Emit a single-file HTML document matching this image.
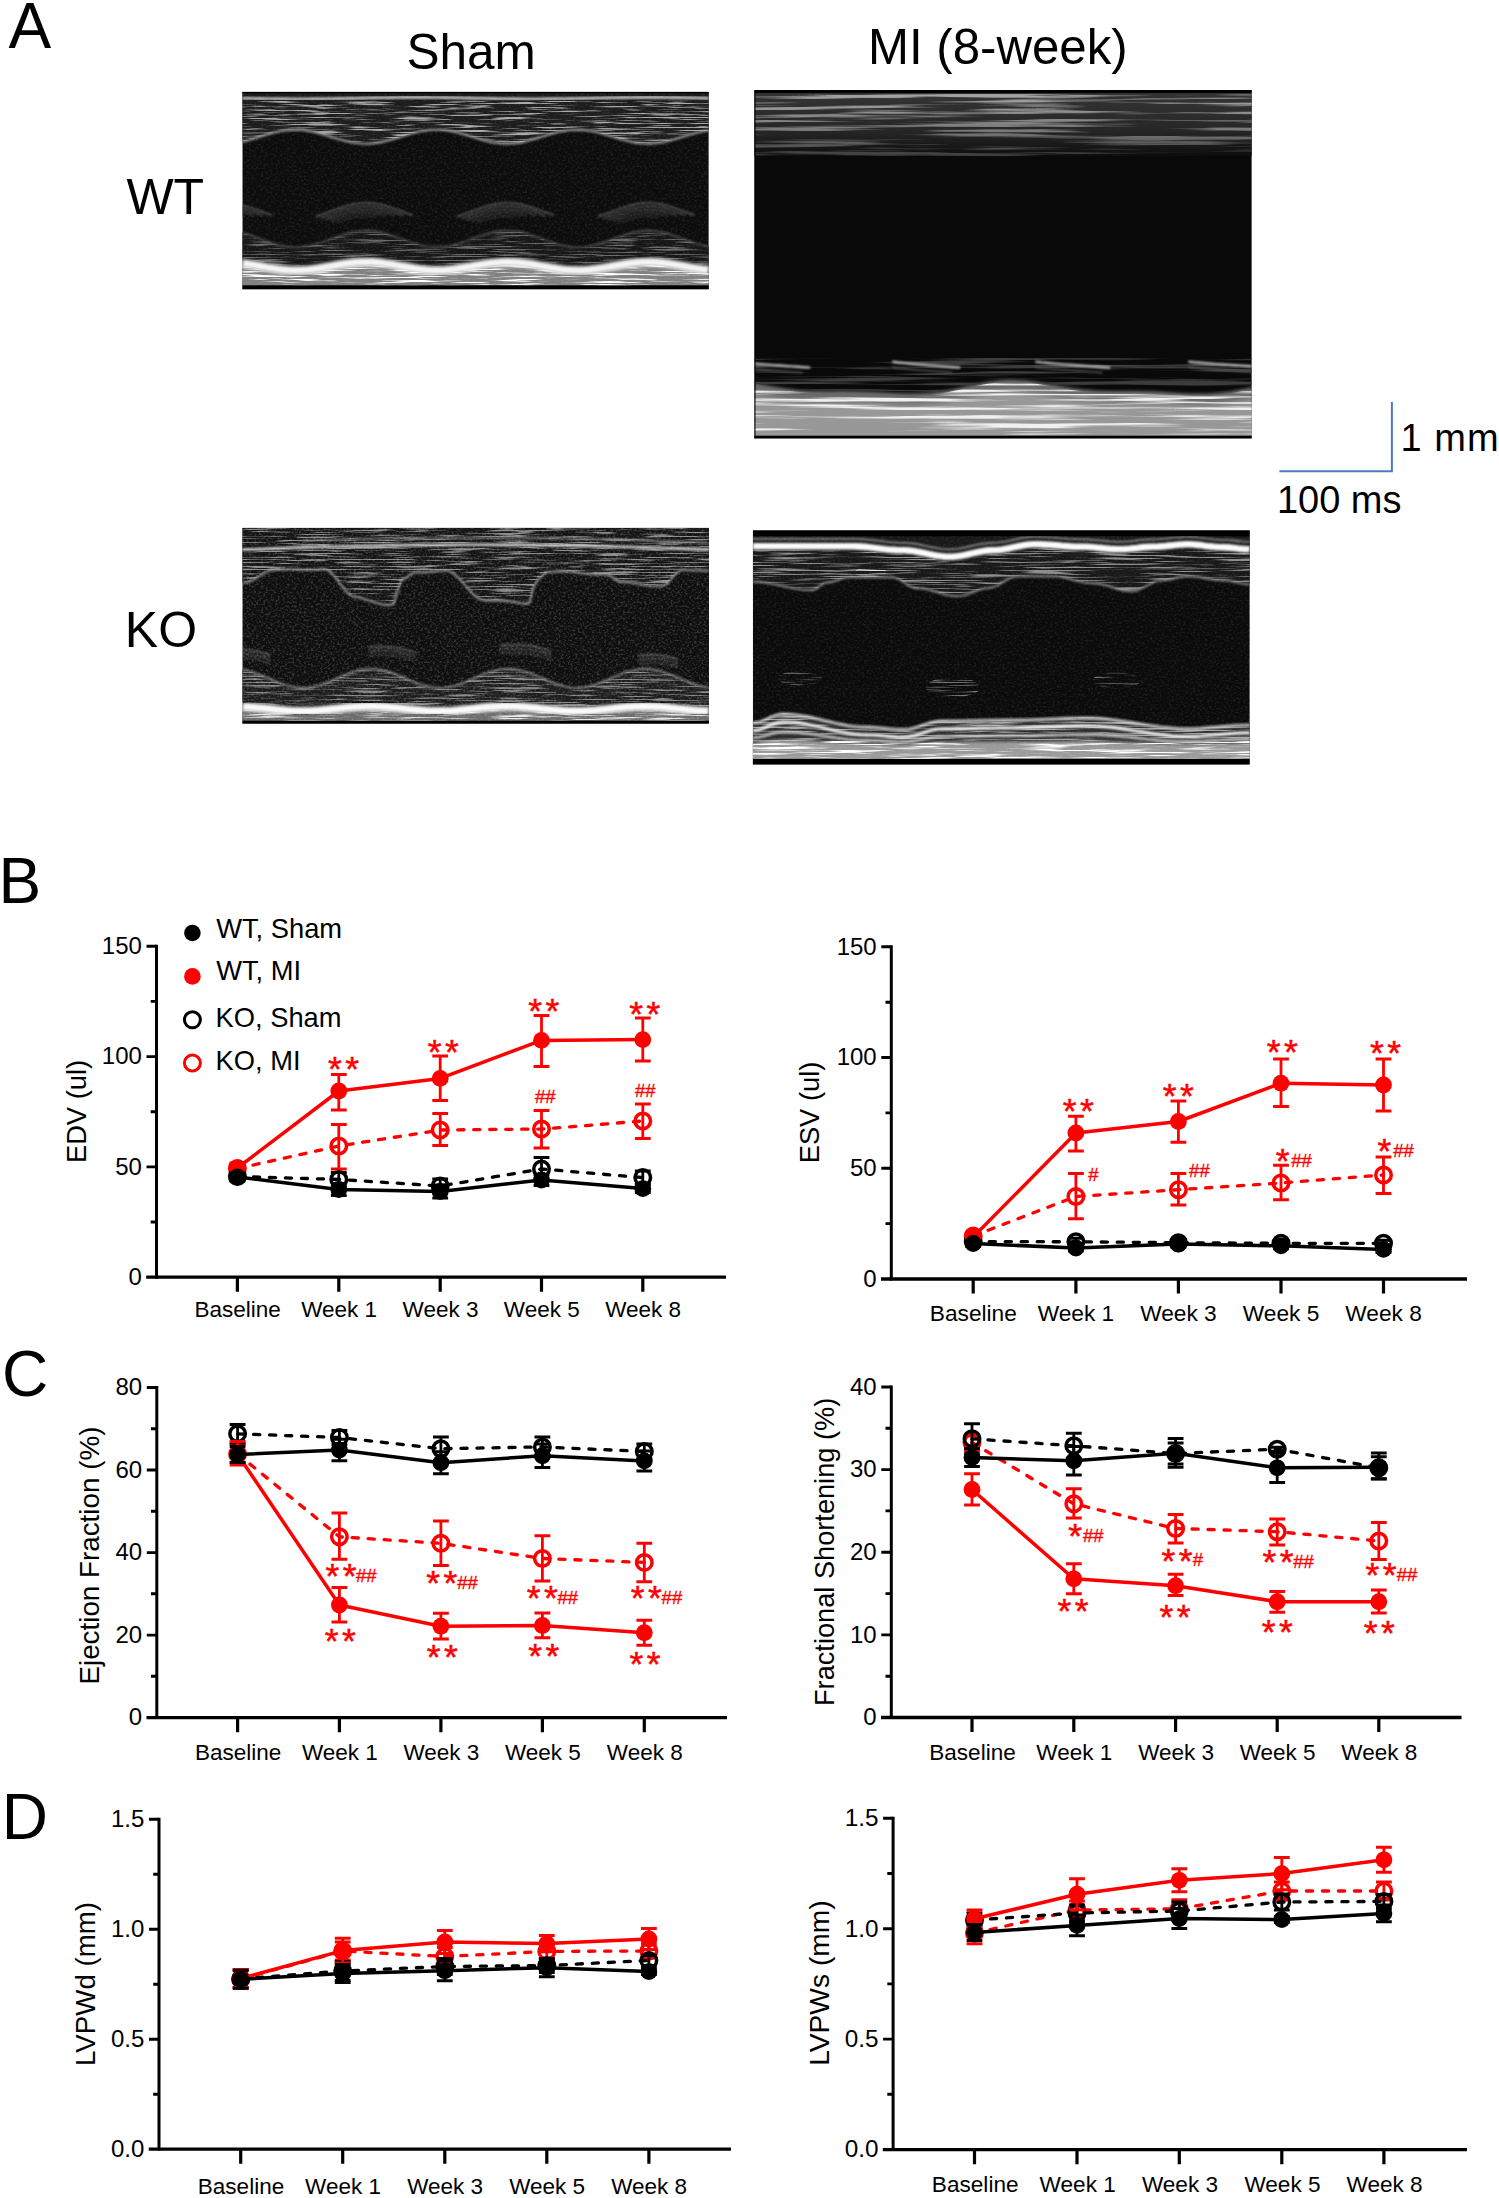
<!DOCTYPE html>
<html lang="en">
<head>
<meta charset="utf-8">
<title>Figure</title>
<style>html,body{margin:0;padding:0;background:#fff}svg{display:block}</style>
</head>
<body>
<svg width="1499" height="2198" viewBox="0 0 1499 2198" font-family='"Liberation Sans", sans-serif'>
<rect width="1499" height="2198" fill="#fff"/>
<defs>
<filter id="sk1" x="0" y="0" width="520" height="360" filterUnits="userSpaceOnUse" color-interpolation-filters="sRGB"><feTurbulence type="fractalNoise" baseFrequency="0.02 0.7" numOctaves="3" seed="4" result="n"/><feColorMatrix in="n" type="matrix" values="0 0 0 0 0 0 0 0 0 0 0 0 0 0 0 5 0 0 0 -2.5" result="m"/><feComposite in="SourceGraphic" in2="m" operator="in"/></filter>
<filter id="sk2" x="0" y="0" width="520" height="360" filterUnits="userSpaceOnUse" color-interpolation-filters="sRGB"><feTurbulence type="fractalNoise" baseFrequency="0.006 0.24" numOctaves="3" seed="11" result="n"/><feColorMatrix in="n" type="matrix" values="0 0 0 0 0 0 0 0 0 0 0 0 0 0 0 5 0 0 0 -2.4" result="m"/><feComposite in="SourceGraphic" in2="m" operator="in"/></filter>
<filter id="sk3" x="0" y="0" width="520" height="360" filterUnits="userSpaceOnUse" color-interpolation-filters="sRGB"><feTurbulence type="fractalNoise" baseFrequency="0.02 0.7" numOctaves="3" seed="23" result="n"/><feColorMatrix in="n" type="matrix" values="0 0 0 0 0 0 0 0 0 0 0 0 0 0 0 5 0 0 0 -2.5" result="m"/><feComposite in="SourceGraphic" in2="m" operator="in"/></filter>
<filter id="sk4" x="0" y="0" width="520" height="360" filterUnits="userSpaceOnUse" color-interpolation-filters="sRGB"><feTurbulence type="fractalNoise" baseFrequency="0.015 0.6" numOctaves="3" seed="37" result="n"/><feColorMatrix in="n" type="matrix" values="0 0 0 0 0 0 0 0 0 0 0 0 0 0 0 5 0 0 0 -2.5" result="m"/><feComposite in="SourceGraphic" in2="m" operator="in"/></filter>
<filter id="spk" x="0" y="0" width="520" height="360" filterUnits="userSpaceOnUse" color-interpolation-filters="sRGB"><feTurbulence type="fractalNoise" baseFrequency="0.42 0.5" numOctaves="2" seed="7" result="n"/><feColorMatrix in="n" type="matrix" values="0 0 0 0 1 0 0 0 0 1 0 0 0 0 1 4 0 0 0 -1.9"/></filter>
<filter id="bl1" x="-5%" y="-50%" width="110%" height="200%"><feGaussianBlur stdDeviation="0.8"/></filter>
<filter id="bl2" x="-5%" y="-50%" width="110%" height="200%"><feGaussianBlur stdDeviation="1.6"/></filter>
<filter id="bl3" x="-5%" y="-50%" width="110%" height="200%"><feGaussianBlur stdDeviation="3"/></filter>
<clipPath id="ec1"><rect width="466.5" height="197.6"/></clipPath>
<clipPath id="ec2"><rect width="497.5" height="348.3"/></clipPath>
<clipPath id="ec3"><rect width="466.7" height="195.9"/></clipPath>
<clipPath id="ec4"><rect width="497" height="234.1"/></clipPath>
</defs>
<g transform="translate(242.3 91.8)" clip-path="url(#ec1)">
<rect width="466.5" height="197.6" fill="#0c0c0c"/>
<path d="M0 0L6 0L12 0L17.9 0L23.9 0L29.9 0L35.9 0L41.9 0L47.8 0L53.8 0L59.8 0L65.8 0L71.8 0L77.8 0L83.7 0L89.7 0L95.7 0L101.7 0L107.7 0L113.6 0L119.6 0L125.6 0L131.6 0L137.6 0L143.5 0L149.5 0L155.5 0L161.5 0L167.5 0L173.4 0L179.4 0L185.4 0L191.4 0L197.4 0L203.3 0L209.3 0L215.3 0L221.3 0L227.3 0L233.2 0L239.2 0L245.2 0L251.2 0L257.2 0L263.2 0L269.1 0L275.1 0L281.1 0L287.1 0L293.1 0L299 0L305 0L311 0L317 0L323 0L328.9 0L334.9 0L340.9 0L346.9 0L352.9 0L358.8 0L364.8 0L370.8 0L376.8 0L382.8 0L388.8 0L394.7 0L400.7 0L406.7 0L412.7 0L418.7 0L424.6 0L430.6 0L436.6 0L442.6 0L448.6 0L454.5 0L460.5 0L466.5 0L466.5 38.6L460.5 39.6L454.5 41L448.6 42.6L442.6 44.4L436.6 46.3L430.6 48.1L424.6 49.6L418.7 50.8L412.7 51.6L406.7 52L400.7 51.8L394.7 51.2L388.8 50.1L382.8 48.7L376.8 47L370.8 45.2L364.8 43.3L358.8 41.6L352.9 40.1L346.9 39L340.9 38.2L334.9 38L328.9 38.3L323 39L317 40.1L311 41.6L305 43.4L299 45.2L293.1 47.1L287.1 48.7L281.1 50.2L275.1 51.2L269.1 51.9L263.2 52L257.2 51.6L251.2 50.8L245.2 49.6L239.2 48L233.2 46.2L227.3 44.4L221.3 42.6L215.3 40.9L209.3 39.6L203.3 38.6L197.4 38.1L191.4 38L185.4 38.5L179.4 39.4L173.4 40.7L167.5 42.4L161.5 44.2L155.5 46L149.5 47.8L143.5 49.4L137.6 50.7L131.6 51.6L125.6 52L119.6 51.9L113.6 51.3L107.7 50.3L101.7 48.9L95.7 47.3L89.7 45.5L83.7 43.6L77.8 41.8L71.8 40.3L65.8 39.1L59.8 38.3L53.8 38L47.8 38.2L41.9 38.8L35.9 39.9L29.9 41.4L23.9 43.1L17.9 44.9L12 46.8L6 48.5L0 50Z" fill="#1c1c1c"/>
<path d="M0 141L6 142.7L12 144.7L17.9 146.9L23.9 149.1L29.9 151.1L35.9 152.9L41.9 154.2L47.8 155L53.8 155.3L59.8 155L65.8 154.1L71.8 152.7L77.8 150.9L83.7 148.8L89.7 146.6L95.7 144.5L101.7 142.5L107.7 140.8L113.6 139.6L119.6 138.9L125.6 138.7L131.6 139.2L137.6 140.2L143.5 141.7L149.5 143.5L155.5 145.6L161.5 147.8L167.5 150L173.4 151.9L179.4 153.5L185.4 154.6L191.4 155.2L197.4 155.2L203.3 154.7L209.3 153.6L215.3 152L221.3 150.1L227.3 147.9L233.2 145.7L239.2 143.6L245.2 141.7L251.2 140.2L257.2 139.2L263.2 138.7L269.1 138.8L275.1 139.5L281.1 140.7L287.1 142.4L293.1 144.4L299 146.6L305 148.8L311 150.8L317 152.6L323 154L328.9 154.9L334.9 155.3L340.9 155.1L346.9 154.3L352.9 152.9L358.8 151.2L364.8 149.2L370.8 147L376.8 144.8L382.8 142.8L388.8 141L394.7 139.7L400.7 138.9L406.7 138.7L412.7 139.1L418.7 140L424.6 141.4L430.6 143.2L436.6 145.3L442.6 147.5L448.6 149.7L454.5 151.6L460.5 153.3L466.5 154.5L466.5 174.3L460.5 173.7L454.5 172.8L448.6 171.8L442.6 170.7L436.6 169.6L430.6 168.6L424.6 167.7L418.7 167L412.7 166.5L406.7 166.3L400.7 166.4L394.7 166.8L388.8 167.5L382.8 168.4L376.8 169.4L370.8 170.5L364.8 171.6L358.8 172.6L352.9 173.5L346.9 174.2L340.9 174.6L334.9 174.7L328.9 174.5L323 174.1L317 173.3L311 172.4L305 171.4L299 170.3L293.1 169.2L287.1 168.2L281.1 167.3L275.1 166.7L269.1 166.4L263.2 166.3L257.2 166.6L251.2 167.1L245.2 167.8L239.2 168.8L233.2 169.8L227.3 171L221.3 172L215.3 173L209.3 173.8L203.3 174.4L197.4 174.7L191.4 174.7L185.4 174.4L179.4 173.8L173.4 173L167.5 172L161.5 170.9L155.5 169.8L149.5 168.7L143.5 167.8L137.6 167L131.6 166.5L125.6 166.3L119.6 166.4L113.6 166.7L107.7 167.4L101.7 168.2L95.7 169.2L89.7 170.3L83.7 171.4L77.8 172.5L71.8 173.4L65.8 174.1L59.8 174.5L53.8 174.7L47.8 174.6L41.9 174.1L35.9 173.5L29.9 172.6L23.9 171.6L17.9 170.4L12 169.3L6 168.3L0 167.4Z" fill="#161616"/>
<path d="M0 174.4L6 175.3L12 176.3L17.9 177.4L23.9 178.6L29.9 179.6L35.9 180.5L41.9 181.1L47.8 181.6L53.8 181.7L59.8 181.5L65.8 181.1L71.8 180.4L77.8 179.5L83.7 178.4L89.7 177.3L95.7 176.2L101.7 175.2L107.7 174.4L113.6 173.7L119.6 173.4L125.6 173.3L131.6 173.5L137.6 174L143.5 174.8L149.5 175.7L155.5 176.8L161.5 177.9L167.5 179L173.4 180L179.4 180.8L185.4 181.4L191.4 181.7L197.4 181.7L203.3 181.4L209.3 180.8L215.3 180L221.3 179L227.3 178L233.2 176.8L239.2 175.8L245.2 174.8L251.2 174.1L257.2 173.6L263.2 173.3L269.1 173.4L275.1 173.7L281.1 174.3L287.1 175.2L293.1 176.2L299 177.3L305 178.4L311 179.4L317 180.3L323 181.1L328.9 181.5L334.9 181.7L340.9 181.6L346.9 181.2L352.9 180.5L358.8 179.6L364.8 178.6L370.8 177.5L376.8 176.4L382.8 175.4L388.8 174.5L394.7 173.8L400.7 173.4L406.7 173.3L412.7 173.5L418.7 174L424.6 174.7L430.6 175.6L436.6 176.6L442.6 177.7L448.6 178.8L454.5 179.8L460.5 180.7L466.5 181.3L466.5 194L460.5 194L454.5 194L448.6 194L442.6 194L436.6 194L430.6 194L424.6 194L418.7 194L412.7 194L406.7 194L400.7 194L394.7 194L388.8 194L382.8 194L376.8 194L370.8 194L364.8 194L358.8 194L352.9 194L346.9 194L340.9 194L334.9 194L328.9 194L323 194L317 194L311 194L305 194L299 194L293.1 194L287.1 194L281.1 194L275.1 194L269.1 194L263.2 194L257.2 194L251.2 194L245.2 194L239.2 194L233.2 194L227.3 194L221.3 194L215.3 194L209.3 194L203.3 194L197.4 194L191.4 194L185.4 194L179.4 194L173.4 194L167.5 194L161.5 194L155.5 194L149.5 194L143.5 194L137.6 194L131.6 194L125.6 194L119.6 194L113.6 194L107.7 194L101.7 194L95.7 194L89.7 194L83.7 194L77.8 194L71.8 194L65.8 194L59.8 194L53.8 194L47.8 194L41.9 194L35.9 194L29.9 194L23.9 194L17.9 194L12 194L6 194L0 194Z" fill="#808080"/>
<g filter="url(#sk1)">
<path d="M0 9L6 9L12 9L17.9 9L23.9 9L29.9 9L35.9 9L41.9 9L47.8 9L53.8 9L59.8 9L65.8 9L71.8 9L77.8 9L83.7 9L89.7 9L95.7 9L101.7 9L107.7 9L113.6 9L119.6 9L125.6 9L131.6 9L137.6 9L143.5 9L149.5 9L155.5 9L161.5 9L167.5 9L173.4 9L179.4 9L185.4 9L191.4 9L197.4 9L203.3 9L209.3 9L215.3 9L221.3 9L227.3 9L233.2 9L239.2 9L245.2 9L251.2 9L257.2 9L263.2 9L269.1 9L275.1 9L281.1 9L287.1 9L293.1 9L299 9L305 9L311 9L317 9L323 9L328.9 9L334.9 9L340.9 9L346.9 9L352.9 9L358.8 9L364.8 9L370.8 9L376.8 9L382.8 9L388.8 9L394.7 9L400.7 9L406.7 9L412.7 9L418.7 9L424.6 9L430.6 9L436.6 9L442.6 9L448.6 9L454.5 9L460.5 9L466.5 9L466.5 38.6L460.5 39.6L454.5 41L448.6 42.6L442.6 44.4L436.6 46.3L430.6 48.1L424.6 49.6L418.7 50.8L412.7 51.6L406.7 52L400.7 51.8L394.7 51.2L388.8 50.1L382.8 48.7L376.8 47L370.8 45.2L364.8 43.3L358.8 41.6L352.9 40.1L346.9 39L340.9 38.2L334.9 38L328.9 38.3L323 39L317 40.1L311 41.6L305 43.4L299 45.2L293.1 47.1L287.1 48.7L281.1 50.2L275.1 51.2L269.1 51.9L263.2 52L257.2 51.6L251.2 50.8L245.2 49.6L239.2 48L233.2 46.2L227.3 44.4L221.3 42.6L215.3 40.9L209.3 39.6L203.3 38.6L197.4 38.1L191.4 38L185.4 38.5L179.4 39.4L173.4 40.7L167.5 42.4L161.5 44.2L155.5 46L149.5 47.8L143.5 49.4L137.6 50.7L131.6 51.6L125.6 52L119.6 51.9L113.6 51.3L107.7 50.3L101.7 48.9L95.7 47.3L89.7 45.5L83.7 43.6L77.8 41.8L71.8 40.3L65.8 39.1L59.8 38.3L53.8 38L47.8 38.2L41.9 38.8L35.9 39.9L29.9 41.4L23.9 43.1L17.9 44.9L12 46.8L6 48.5L0 50Z" fill="#a8a8a8"/>
<path d="M0 141L6 142.7L12 144.7L17.9 146.9L23.9 149.1L29.9 151.1L35.9 152.9L41.9 154.2L47.8 155L53.8 155.3L59.8 155L65.8 154.1L71.8 152.7L77.8 150.9L83.7 148.8L89.7 146.6L95.7 144.5L101.7 142.5L107.7 140.8L113.6 139.6L119.6 138.9L125.6 138.7L131.6 139.2L137.6 140.2L143.5 141.7L149.5 143.5L155.5 145.6L161.5 147.8L167.5 150L173.4 151.9L179.4 153.5L185.4 154.6L191.4 155.2L197.4 155.2L203.3 154.7L209.3 153.6L215.3 152L221.3 150.1L227.3 147.9L233.2 145.7L239.2 143.6L245.2 141.7L251.2 140.2L257.2 139.2L263.2 138.7L269.1 138.8L275.1 139.5L281.1 140.7L287.1 142.4L293.1 144.4L299 146.6L305 148.8L311 150.8L317 152.6L323 154L328.9 154.9L334.9 155.3L340.9 155.1L346.9 154.3L352.9 152.9L358.8 151.2L364.8 149.2L370.8 147L376.8 144.8L382.8 142.8L388.8 141L394.7 139.7L400.7 138.9L406.7 138.7L412.7 139.1L418.7 140L424.6 141.4L430.6 143.2L436.6 145.3L442.6 147.5L448.6 149.7L454.5 151.6L460.5 153.3L466.5 154.5L466.5 174.3L460.5 173.7L454.5 172.8L448.6 171.8L442.6 170.7L436.6 169.6L430.6 168.6L424.6 167.7L418.7 167L412.7 166.5L406.7 166.3L400.7 166.4L394.7 166.8L388.8 167.5L382.8 168.4L376.8 169.4L370.8 170.5L364.8 171.6L358.8 172.6L352.9 173.5L346.9 174.2L340.9 174.6L334.9 174.7L328.9 174.5L323 174.1L317 173.3L311 172.4L305 171.4L299 170.3L293.1 169.2L287.1 168.2L281.1 167.3L275.1 166.7L269.1 166.4L263.2 166.3L257.2 166.6L251.2 167.1L245.2 167.8L239.2 168.8L233.2 169.8L227.3 171L221.3 172L215.3 173L209.3 173.8L203.3 174.4L197.4 174.7L191.4 174.7L185.4 174.4L179.4 173.8L173.4 173L167.5 172L161.5 170.9L155.5 169.8L149.5 168.7L143.5 167.8L137.6 167L131.6 166.5L125.6 166.3L119.6 166.4L113.6 166.7L107.7 167.4L101.7 168.2L95.7 169.2L89.7 170.3L83.7 171.4L77.8 172.5L71.8 173.4L65.8 174.1L59.8 174.5L53.8 174.7L47.8 174.6L41.9 174.1L35.9 173.5L29.9 172.6L23.9 171.6L17.9 170.4L12 169.3L6 168.3L0 167.4Z" fill="#686868"/>
<path d="M0 174.4L6 175.3L12 176.3L17.9 177.4L23.9 178.6L29.9 179.6L35.9 180.5L41.9 181.1L47.8 181.6L53.8 181.7L59.8 181.5L65.8 181.1L71.8 180.4L77.8 179.5L83.7 178.4L89.7 177.3L95.7 176.2L101.7 175.2L107.7 174.4L113.6 173.7L119.6 173.4L125.6 173.3L131.6 173.5L137.6 174L143.5 174.8L149.5 175.7L155.5 176.8L161.5 177.9L167.5 179L173.4 180L179.4 180.8L185.4 181.4L191.4 181.7L197.4 181.7L203.3 181.4L209.3 180.8L215.3 180L221.3 179L227.3 178L233.2 176.8L239.2 175.8L245.2 174.8L251.2 174.1L257.2 173.6L263.2 173.3L269.1 173.4L275.1 173.7L281.1 174.3L287.1 175.2L293.1 176.2L299 177.3L305 178.4L311 179.4L317 180.3L323 181.1L328.9 181.5L334.9 181.7L340.9 181.6L346.9 181.2L352.9 180.5L358.8 179.6L364.8 178.6L370.8 177.5L376.8 176.4L382.8 175.4L388.8 174.5L394.7 173.8L400.7 173.4L406.7 173.3L412.7 173.5L418.7 174L424.6 174.7L430.6 175.6L436.6 176.6L442.6 177.7L448.6 178.8L454.5 179.8L460.5 180.7L466.5 181.3L466.5 194L460.5 194L454.5 194L448.6 194L442.6 194L436.6 194L430.6 194L424.6 194L418.7 194L412.7 194L406.7 194L400.7 194L394.7 194L388.8 194L382.8 194L376.8 194L370.8 194L364.8 194L358.8 194L352.9 194L346.9 194L340.9 194L334.9 194L328.9 194L323 194L317 194L311 194L305 194L299 194L293.1 194L287.1 194L281.1 194L275.1 194L269.1 194L263.2 194L257.2 194L251.2 194L245.2 194L239.2 194L233.2 194L227.3 194L221.3 194L215.3 194L209.3 194L203.3 194L197.4 194L191.4 194L185.4 194L179.4 194L173.4 194L167.5 194L161.5 194L155.5 194L149.5 194L143.5 194L137.6 194L131.6 194L125.6 194L119.6 194L113.6 194L107.7 194L101.7 194L95.7 194L89.7 194L83.7 194L77.8 194L71.8 194L65.8 194L59.8 194L53.8 194L47.8 194L41.9 194L35.9 194L29.9 194L23.9 194L17.9 194L12 194L6 194L0 194Z" fill="#ffffff"/>
</g>
<path d="M-67 124.6L-63 123.3L-59 122L-55 120.5L-51 119L-47 117.6L-43 116.2L-39 114.9L-35 113.7L-31 112.8L-27 112L-23 111.5L-19 111.2L-15 111.2L-11 111.5L-7 112L-3 112.8L1 113.7L5 114.9L9 116.2L13 117.6L17 119L21 120.5L25 122L29 123.3" stroke="#5e5e5e" stroke-width="1.6" stroke-linecap="round" fill="none" filter="url(#bl1)"/>
<path d="M-62 126.3L-57.9 124.9L-53.8 123.4L-49.7 121.9L-45.6 120.4L-41.5 119L-37.4 117.7L-33.3 116.6L-29.2 115.7L-25.1 115L-21 114.6L-16.9 114.5L-12.8 114.6L-8.7 115.1L-4.6 115.7L-0.5 116.6L3.6 117.8L7.7 119L11.8 120.4L15.9 121.9L20 123.4" stroke="#4e4e4e" stroke-width="1.6" stroke-linecap="round" fill="none" filter="url(#bl1)"/>
<path d="M-57 127.8L-53 126.4L-49 124.9L-45 123.5L-41 122.1L-37 120.9L-33 119.8L-29 119L-25 118.3L-21 117.9L-17 117.8L-13 117.9L-9 118.3L-5 119L-1 119.8L3 120.9L7 122.1L11 123.5" stroke="#444" stroke-width="1.6" stroke-linecap="round" fill="none" filter="url(#bl1)"/>
<path d="M-52 129.3L-48.1 127.9L-44.3 126.5L-40.4 125.2L-36.6 124.1L-32.7 123.1L-28.9 122.2L-25 121.6L-21.1 121.2L-17.3 121.1L-13.4 121.2L-9.6 121.6L-5.7 122.1L-1.9 122.9L2 123.9" stroke="#383838" stroke-width="1.6" stroke-linecap="round" fill="none" filter="url(#bl1)"/>
<path d="M-47 130.8L-43 129.4L-39 128.1L-35 126.9L-31 126L-27 125.2L-23 124.7L-19 124.4L-15 124.4L-11 124.7L-7 125.2" stroke="#2e2e2e" stroke-width="1.6" stroke-linecap="round" fill="none" filter="url(#bl1)"/>
<path d="M74 124.6L78 123.3L82 122L86 120.5L90 119L94 117.6L98 116.2L102 114.9L106 113.7L110 112.8L114 112L118 111.5L122 111.2L126 111.2L130 111.5L134 112L138 112.8L142 113.7L146 114.9L150 116.2L154 117.6L158 119L162 120.5L166 122L170 123.3" stroke="#5e5e5e" stroke-width="1.6" stroke-linecap="round" fill="none" filter="url(#bl1)"/>
<path d="M79 126.3L83.1 124.9L87.2 123.4L91.3 121.9L95.4 120.4L99.5 119L103.6 117.7L107.7 116.6L111.8 115.7L115.9 115L120 114.6L124.1 114.5L128.2 114.6L132.3 115.1L136.4 115.7L140.5 116.6L144.6 117.8L148.7 119L152.8 120.4L156.9 121.9L161 123.4" stroke="#4e4e4e" stroke-width="1.6" stroke-linecap="round" fill="none" filter="url(#bl1)"/>
<path d="M84 127.8L88 126.4L92 124.9L96 123.5L100 122.1L104 120.9L108 119.8L112 119L116 118.3L120 117.9L124 117.8L128 117.9L132 118.3L136 119L140 119.8L144 120.9L148 122.1L152 123.5" stroke="#444" stroke-width="1.6" stroke-linecap="round" fill="none" filter="url(#bl1)"/>
<path d="M89 129.3L92.9 127.9L96.7 126.5L100.6 125.2L104.4 124.1L108.3 123.1L112.1 122.2L116 121.6L119.9 121.2L123.7 121.1L127.6 121.2L131.4 121.6L135.3 122.1L139.1 122.9L143 123.9" stroke="#383838" stroke-width="1.6" stroke-linecap="round" fill="none" filter="url(#bl1)"/>
<path d="M94 130.8L98 129.4L102 128.1L106 126.9L110 126L114 125.2L118 124.7L122 124.4L126 124.4L130 124.7L134 125.2" stroke="#2e2e2e" stroke-width="1.6" stroke-linecap="round" fill="none" filter="url(#bl1)"/>
<path d="M215 124.6L219 123.3L223 122L227 120.5L231 119L235 117.6L239 116.2L243 114.9L247 113.7L251 112.8L255 112L259 111.5L263 111.2L267 111.2L271 111.5L275 112L279 112.8L283 113.7L287 114.9L291 116.2L295 117.6L299 119L303 120.5L307 122L311 123.3" stroke="#5e5e5e" stroke-width="1.6" stroke-linecap="round" fill="none" filter="url(#bl1)"/>
<path d="M220 126.3L224.1 124.9L228.2 123.4L232.3 121.9L236.4 120.4L240.5 119L244.6 117.7L248.7 116.6L252.8 115.7L256.9 115L261 114.6L265.1 114.5L269.2 114.6L273.3 115.1L277.4 115.7L281.5 116.6L285.6 117.8L289.7 119L293.8 120.4L297.9 121.9L302 123.4" stroke="#4e4e4e" stroke-width="1.6" stroke-linecap="round" fill="none" filter="url(#bl1)"/>
<path d="M225 127.8L229 126.4L233 124.9L237 123.5L241 122.1L245 120.9L249 119.8L253 119L257 118.3L261 117.9L265 117.8L269 117.9L273 118.3L277 119L281 119.8L285 120.9L289 122.1L293 123.5" stroke="#444" stroke-width="1.6" stroke-linecap="round" fill="none" filter="url(#bl1)"/>
<path d="M230 129.3L233.9 127.9L237.7 126.5L241.6 125.2L245.4 124.1L249.3 123.1L253.1 122.2L257 121.6L260.9 121.2L264.7 121.1L268.6 121.2L272.4 121.6L276.3 122.1L280.1 122.9L284 123.9" stroke="#383838" stroke-width="1.6" stroke-linecap="round" fill="none" filter="url(#bl1)"/>
<path d="M235 130.8L239 129.4L243 128.1L247 126.9L251 126L255 125.2L259 124.7L263 124.4L267 124.4L271 124.7L275 125.2" stroke="#2e2e2e" stroke-width="1.6" stroke-linecap="round" fill="none" filter="url(#bl1)"/>
<path d="M356 124.6L360 123.3L364 122L368 120.5L372 119L376 117.6L380 116.2L384 114.9L388 113.7L392 112.8L396 112L400 111.5L404 111.2L408 111.2L412 111.5L416 112L420 112.8L424 113.7L428 114.9L432 116.2L436 117.6L440 119L444 120.5L448 122L452 123.3" stroke="#5e5e5e" stroke-width="1.6" stroke-linecap="round" fill="none" filter="url(#bl1)"/>
<path d="M361 126.3L365.1 124.9L369.2 123.4L373.3 121.9L377.4 120.4L381.5 119L385.6 117.7L389.7 116.6L393.8 115.7L397.9 115L402 114.6L406.1 114.5L410.2 114.6L414.3 115.1L418.4 115.7L422.5 116.6L426.6 117.8L430.7 119L434.8 120.4L438.9 121.9L443 123.4" stroke="#4e4e4e" stroke-width="1.6" stroke-linecap="round" fill="none" filter="url(#bl1)"/>
<path d="M366 127.8L370 126.4L374 124.9L378 123.5L382 122.1L386 120.9L390 119.8L394 119L398 118.3L402 117.9L406 117.8L410 117.9L414 118.3L418 119L422 119.8L426 120.9L430 122.1L434 123.5" stroke="#444" stroke-width="1.6" stroke-linecap="round" fill="none" filter="url(#bl1)"/>
<path d="M371 129.3L374.9 127.9L378.7 126.5L382.6 125.2L386.4 124.1L390.3 123.1L394.1 122.2L398 121.6L401.9 121.2L405.7 121.1L409.6 121.2L413.4 121.6L417.3 122.1L421.1 122.9L425 123.9" stroke="#383838" stroke-width="1.6" stroke-linecap="round" fill="none" filter="url(#bl1)"/>
<path d="M376 130.8L380 129.4L384 128.1L388 126.9L392 126L396 125.2L400 124.7L404 124.4L408 124.4L412 124.7L416 125.2" stroke="#2e2e2e" stroke-width="1.6" stroke-linecap="round" fill="none" filter="url(#bl1)"/>
<path d="M0 6.4L6 6.5L12 6.7L17.9 6.8L23.9 6.9L29.9 7L35.9 7.1L41.9 7.1L47.8 7.2L53.8 7.2L59.8 7.2L65.8 7.2L71.8 7.1L77.8 7.1L83.7 7L89.7 6.9L95.7 6.8L101.7 6.7L107.7 6.6L113.6 6.5L119.6 6.3L125.6 6.2L131.6 6.1L137.6 6L143.5 5.9L149.5 5.8L155.5 5.7L161.5 5.6L167.5 5.6L173.4 5.6L179.4 5.6L185.4 5.6L191.4 5.7L197.4 5.7L203.3 5.8L209.3 5.9L215.3 6L221.3 6.2L227.3 6.3L233.2 6.4L239.2 6.5L245.2 6.7L251.2 6.8L257.2 6.9L263.2 7L269.1 7.1L275.1 7.1L281.1 7.2L287.1 7.2L293.1 7.2L299 7.2L305 7.1L311 7.1L317 7L323 6.9L328.9 6.8L334.9 6.7L340.9 6.6L346.9 6.4L352.9 6.3L358.8 6.2L364.8 6.1L370.8 6L376.8 5.8L382.8 5.8L388.8 5.7L394.7 5.6L400.7 5.6L406.7 5.6L412.7 5.6L418.7 5.6L424.6 5.7L430.6 5.8L436.6 5.8L442.6 5.9L448.6 6.1L454.5 6.2L460.5 6.3L466.5 6.4" stroke="#cfcfcf" stroke-width="2.6" fill="none" filter="url(#bl1)"/>
<path d="M0 50L6 48.5L12 46.8L17.9 44.9L23.9 43.1L29.9 41.4L35.9 39.9L41.9 38.8L47.8 38.2L53.8 38L59.8 38.3L65.8 39.1L71.8 40.3L77.8 41.8L83.7 43.6L89.7 45.5L95.7 47.3L101.7 48.9L107.7 50.3L113.6 51.3L119.6 51.9L125.6 52L131.6 51.6L137.6 50.7L143.5 49.4L149.5 47.8L155.5 46L161.5 44.2L167.5 42.4L173.4 40.7L179.4 39.4L185.4 38.5L191.4 38L197.4 38.1L203.3 38.6L209.3 39.6L215.3 40.9L221.3 42.6L227.3 44.4L233.2 46.2L239.2 48L245.2 49.6L251.2 50.8L257.2 51.6L263.2 52L269.1 51.9L275.1 51.2L281.1 50.2L287.1 48.7L293.1 47.1L299 45.2L305 43.4L311 41.6L317 40.1L323 39L328.9 38.3L334.9 38L340.9 38.2L346.9 39L352.9 40.1L358.8 41.6L364.8 43.3L370.8 45.2L376.8 47L382.8 48.7L388.8 50.1L394.7 51.2L400.7 51.8L406.7 52L412.7 51.6L418.7 50.8L424.6 49.6L430.6 48.1L436.6 46.3L442.6 44.4L448.6 42.6L454.5 41L460.5 39.6L466.5 38.6" stroke="#a8a8a8" stroke-width="1.8" fill="none" filter="url(#bl1)"/>
<path d="M0 141L6 142.7L12 144.7L17.9 146.9L23.9 149.1L29.9 151.1L35.9 152.9L41.9 154.2L47.8 155L53.8 155.3L59.8 155L65.8 154.1L71.8 152.7L77.8 150.9L83.7 148.8L89.7 146.6L95.7 144.5L101.7 142.5L107.7 140.8L113.6 139.6L119.6 138.9L125.6 138.7L131.6 139.2L137.6 140.2L143.5 141.7L149.5 143.5L155.5 145.6L161.5 147.8L167.5 150L173.4 151.9L179.4 153.5L185.4 154.6L191.4 155.2L197.4 155.2L203.3 154.7L209.3 153.6L215.3 152L221.3 150.1L227.3 147.9L233.2 145.7L239.2 143.6L245.2 141.7L251.2 140.2L257.2 139.2L263.2 138.7L269.1 138.8L275.1 139.5L281.1 140.7L287.1 142.4L293.1 144.4L299 146.6L305 148.8L311 150.8L317 152.6L323 154L328.9 154.9L334.9 155.3L340.9 155.1L346.9 154.3L352.9 152.9L358.8 151.2L364.8 149.2L370.8 147L376.8 144.8L382.8 142.8L388.8 141L394.7 139.7L400.7 138.9L406.7 138.7L412.7 139.1L418.7 140L424.6 141.4L430.6 143.2L436.6 145.3L442.6 147.5L448.6 149.7L454.5 151.6L460.5 153.3L466.5 154.5" stroke="#585858" stroke-width="1.4" fill="none" filter="url(#bl1)"/>
<path d="M0 171.4L6 172.3L12 173.3L17.9 174.4L23.9 175.6L29.9 176.6L35.9 177.5L41.9 178.1L47.8 178.6L53.8 178.7L59.8 178.5L65.8 178.1L71.8 177.4L77.8 176.5L83.7 175.4L89.7 174.3L95.7 173.2L101.7 172.2L107.7 171.4L113.6 170.7L119.6 170.4L125.6 170.3L131.6 170.5L137.6 171L143.5 171.8L149.5 172.7L155.5 173.8L161.5 174.9L167.5 176L173.4 177L179.4 177.8L185.4 178.4L191.4 178.7L197.4 178.7L203.3 178.4L209.3 177.8L215.3 177L221.3 176L227.3 175L233.2 173.8L239.2 172.8L245.2 171.8L251.2 171.1L257.2 170.6L263.2 170.3L269.1 170.4L275.1 170.7L281.1 171.3L287.1 172.2L293.1 173.2L299 174.3L305 175.4L311 176.4L317 177.3L323 178.1L328.9 178.5L334.9 178.7L340.9 178.6L346.9 178.2L352.9 177.5L358.8 176.6L364.8 175.6L370.8 174.5L376.8 173.4L382.8 172.4L388.8 171.5L394.7 170.8L400.7 170.4L406.7 170.3L412.7 170.5L418.7 171L424.6 171.7L430.6 172.6L436.6 173.6L442.6 174.7L448.6 175.8L454.5 176.8L460.5 177.7L466.5 178.3" stroke="#f4f4f4" stroke-width="8.5" fill="none" filter="url(#bl2)"/>
<rect width="466.5" height="197.6" filter="url(#spk)" opacity="0.07"/>
<rect y="193.6" width="466.5" height="4" fill="#000"/>
<rect width="466.5" height="1.6" fill="#000"/>
</g>
<g transform="translate(754.3 90.1)" clip-path="url(#ec2)">
<rect width="497.5" height="348.3" fill="#090909"/>
<linearGradient id="g2a" x1="0" y1="0" x2="0" y2="1"><stop offset="0" stop-color="#343434"/><stop offset="0.6" stop-color="#262626"/><stop offset="0.9" stop-color="#141414"/><stop offset="1" stop-color="#0c0c0c"/></linearGradient>
<linearGradient id="g2b" x1="0" y1="0" x2="0" y2="1"><stop offset="0" stop-color="#a4a4a4"/><stop offset="0.6" stop-color="#787878"/><stop offset="1" stop-color="#3c3c3c"/></linearGradient>
<rect y="3" width="497.5" height="63" fill="url(#g2a)"/>
<path d="M0 292.9L6 293.9L12 295.1L18 296.2L24 297.2L30 298.2L36 299L42 299.7L48 300.2L53.9 300.6L59.9 300.9L65.9 301L71.9 301.1L77.9 301.1L83.9 301L89.9 301L95.9 301.1L101.9 301.1L107.9 301.3L113.9 301.5L119.9 301.8L125.9 302.1L131.9 302.5L137.9 302.8L143.9 303.1L149.8 303.4L155.8 303.5L161.8 303.4L167.8 303.2L173.8 302.8L179.8 302.1L185.8 301.3L191.8 300.3L197.8 299.1L203.8 297.9L209.8 296.6L215.8 295.2L221.8 293.9L227.8 292.7L233.8 291.6L239.8 290.8L245.8 290.1L251.7 289.7L257.7 289.6L263.7 289.8L269.7 290.2L275.7 290.8L281.7 291.6L287.7 292.6L293.7 293.6L299.7 294.7L305.7 295.8L311.7 296.9L317.7 297.9L323.7 298.7L329.7 299.4L335.7 300L341.7 300.4L347.7 300.7L353.6 300.9L359.6 300.9L365.6 301L371.6 301L377.6 301L383.6 301L389.6 301.1L395.6 301.2L401.6 301.4L407.6 301.7L413.6 302.1L419.6 302.4L425.6 302.8L431.6 303.1L437.6 303.4L443.6 303.5L449.5 303.5L455.5 303.4L461.5 303L467.5 302.4L473.5 301.6L479.5 300.7L485.5 299.5L491.5 298.3L497.5 297L497.5 346L491.5 346L485.5 346L479.5 346L473.5 346L467.5 346L461.5 346L455.5 346L449.5 346L443.6 346L437.6 346L431.6 346L425.6 346L419.6 346L413.6 346L407.6 346L401.6 346L395.6 346L389.6 346L383.6 346L377.6 346L371.6 346L365.6 346L359.6 346L353.6 346L347.7 346L341.7 346L335.7 346L329.7 346L323.7 346L317.7 346L311.7 346L305.7 346L299.7 346L293.7 346L287.7 346L281.7 346L275.7 346L269.7 346L263.7 346L257.7 346L251.7 346L245.8 346L239.8 346L233.8 346L227.8 346L221.8 346L215.8 346L209.8 346L203.8 346L197.8 346L191.8 346L185.8 346L179.8 346L173.8 346L167.8 346L161.8 346L155.8 346L149.8 346L143.9 346L137.9 346L131.9 346L125.9 346L119.9 346L113.9 346L107.9 346L101.9 346L95.9 346L89.9 346L83.9 346L77.9 346L71.9 346L65.9 346L59.9 346L53.9 346L48 346L42 346L36 346L30 346L24 346L18 346L12 346L6 346L0 346Z" fill="#6a6a6a" filter="url(#bl2)"/>
<path d="M-10 302.3L-4 303.2L2 304.2L8.1 305.3L14.1 306.5L20.1 307.6L26.1 308.6L32.1 309.5L38.1 310.3L44.2 310.9L50.2 311.4L56.2 311.7L62.2 311.9L68.2 312L74.2 312.1L80.3 312.1L86.3 312L92.3 312L98.3 312.1L104.3 312.2L110.3 312.4L116.4 312.6L122.4 312.9L128.4 313.3L134.4 313.6L140.4 314L146.5 314.3L152.5 314.4L158.5 314.5L164.5 314.3L170.5 314L176.5 313.5L182.6 312.8L188.6 311.9L194.6 310.8L200.6 309.6L206.6 308.3L212.6 306.9L218.7 305.6L224.7 304.3L230.7 303.2L236.7 302.2L242.7 301.4L248.8 300.9L254.8 300.7L260.8 300.7L266.8 300.9L272.8 301.5L278.8 302.2L284.9 303.1L290.9 304.1L296.9 305.2L302.9 306.3L308.9 307.4L314.9 308.4L321 309.4L327 310.1L333 310.8L339 311.3L345 311.6L351 311.8L357.1 311.9L363.1 312L369.1 312L375.1 312L381.1 312L387.2 312L393.2 312.1L399.2 312.3L405.2 312.6L411.2 312.9L417.2 313.3L423.3 313.7L429.3 314L435.3 314.3L441.3 314.5L447.3 314.6L453.3 314.4L459.4 314.1L465.4 313.6L471.4 312.9L477.4 312L483.4 310.9L489.4 309.7L495.5 308.4L501.5 307.1L507.5 305.7L507.5 352L501.5 352L495.5 352L489.4 352L483.4 352L477.4 352L471.4 352L465.4 352L459.4 352L453.3 352L447.3 352L441.3 352L435.3 352L429.3 352L423.3 352L417.2 352L411.2 352L405.2 352L399.2 352L393.2 352L387.2 352L381.1 352L375.1 352L369.1 352L363.1 352L357.1 352L351 352L345 352L339 352L333 352L327 352L321 352L314.9 352L308.9 352L302.9 352L296.9 352L290.9 352L284.9 352L278.8 352L272.8 352L266.8 352L260.8 352L254.8 352L248.8 352L242.7 352L236.7 352L230.7 352L224.7 352L218.7 352L212.6 352L206.6 352L200.6 352L194.6 352L188.6 352L182.6 352L176.5 352L170.5 352L164.5 352L158.5 352L152.5 352L146.5 352L140.4 352L134.4 352L128.4 352L122.4 352L116.4 352L110.3 352L104.3 352L98.3 352L92.3 352L86.3 352L80.3 352L74.2 352L68.2 352L62.2 352L56.2 352L50.2 352L44.2 352L38.1 352L32.1 352L26.1 352L20.1 352L14.1 352L8.1 352L2 352L-4 352L-10 352Z" fill="#989898" filter="url(#bl3)"/>
<g filter="url(#sk2)">
<rect y="4" width="497.5" height="62" fill="url(#g2b)"/>
<path d="M0 294.9L6 295.9L12 297.1L18 298.2L24 299.2L30 300.2L36 301L42 301.7L48 302.2L53.9 302.6L59.9 302.9L65.9 303L71.9 303.1L77.9 303.1L83.9 303L89.9 303L95.9 303.1L101.9 303.1L107.9 303.3L113.9 303.5L119.9 303.8L125.9 304.1L131.9 304.5L137.9 304.8L143.9 305.1L149.8 305.4L155.8 305.5L161.8 305.4L167.8 305.2L173.8 304.8L179.8 304.1L185.8 303.3L191.8 302.3L197.8 301.1L203.8 299.9L209.8 298.6L215.8 297.2L221.8 295.9L227.8 294.7L233.8 293.6L239.8 292.8L245.8 292.1L251.7 291.7L257.7 291.6L263.7 291.8L269.7 292.2L275.7 292.8L281.7 293.6L287.7 294.6L293.7 295.6L299.7 296.7L305.7 297.8L311.7 298.9L317.7 299.9L323.7 300.7L329.7 301.4L335.7 302L341.7 302.4L347.7 302.7L353.6 302.9L359.6 302.9L365.6 303L371.6 303L377.6 303L383.6 303L389.6 303.1L395.6 303.2L401.6 303.4L407.6 303.7L413.6 304.1L419.6 304.4L425.6 304.8L431.6 305.1L437.6 305.4L443.6 305.5L449.5 305.5L455.5 305.4L461.5 305L467.5 304.4L473.5 303.6L479.5 302.7L485.5 301.5L491.5 300.3L497.5 299L497.5 345L491.5 345L485.5 345L479.5 345L473.5 345L467.5 345L461.5 345L455.5 345L449.5 345L443.6 345L437.6 345L431.6 345L425.6 345L419.6 345L413.6 345L407.6 345L401.6 345L395.6 345L389.6 345L383.6 345L377.6 345L371.6 345L365.6 345L359.6 345L353.6 345L347.7 345L341.7 345L335.7 345L329.7 345L323.7 345L317.7 345L311.7 345L305.7 345L299.7 345L293.7 345L287.7 345L281.7 345L275.7 345L269.7 345L263.7 345L257.7 345L251.7 345L245.8 345L239.8 345L233.8 345L227.8 345L221.8 345L215.8 345L209.8 345L203.8 345L197.8 345L191.8 345L185.8 345L179.8 345L173.8 345L167.8 345L161.8 345L155.8 345L149.8 345L143.9 345L137.9 345L131.9 345L125.9 345L119.9 345L113.9 345L107.9 345L101.9 345L95.9 345L89.9 345L83.9 345L77.9 345L71.9 345L65.9 345L59.9 345L53.9 345L48 345L42 345L36 345L30 345L24 345L18 345L12 345L6 345L0 345Z" fill="#f0f0f0"/>
<path d="M0 268L6 268L12 268L18 268L24 268L30 268L36 268L42 268L48 268L53.9 268L59.9 268L65.9 268L71.9 268L77.9 268L83.9 268L89.9 268L95.9 268L101.9 268L107.9 268L113.9 268L119.9 268L125.9 268L131.9 268L137.9 268L143.9 268L149.8 268L155.8 268L161.8 268L167.8 268L173.8 268L179.8 268L185.8 268L191.8 268L197.8 268L203.8 268L209.8 268L215.8 268L221.8 268L227.8 268L233.8 268L239.8 268L245.8 268L251.7 268L257.7 268L263.7 268L269.7 268L275.7 268L281.7 268L287.7 268L293.7 268L299.7 268L305.7 268L311.7 268L317.7 268L323.7 268L329.7 268L335.7 268L341.7 268L347.7 268L353.6 268L359.6 268L365.6 268L371.6 268L377.6 268L383.6 268L389.6 268L395.6 268L401.6 268L407.6 268L413.6 268L419.6 268L425.6 268L431.6 268L437.6 268L443.6 268L449.5 268L455.5 268L461.5 268L467.5 268L473.5 268L479.5 268L485.5 268L491.5 268L497.5 268L497.5 297L491.5 298.3L485.5 299.5L479.5 300.7L473.5 301.6L467.5 302.4L461.5 303L455.5 303.4L449.5 303.5L443.6 303.5L437.6 303.4L431.6 303.1L425.6 302.8L419.6 302.4L413.6 302.1L407.6 301.7L401.6 301.4L395.6 301.2L389.6 301.1L383.6 301L377.6 301L371.6 301L365.6 301L359.6 300.9L353.6 300.9L347.7 300.7L341.7 300.4L335.7 300L329.7 299.4L323.7 298.7L317.7 297.9L311.7 296.9L305.7 295.8L299.7 294.7L293.7 293.6L287.7 292.6L281.7 291.6L275.7 290.8L269.7 290.2L263.7 289.8L257.7 289.6L251.7 289.7L245.8 290.1L239.8 290.8L233.8 291.6L227.8 292.7L221.8 293.9L215.8 295.2L209.8 296.6L203.8 297.9L197.8 299.1L191.8 300.3L185.8 301.3L179.8 302.1L173.8 302.8L167.8 303.2L161.8 303.4L155.8 303.5L149.8 303.4L143.9 303.1L137.9 302.8L131.9 302.5L125.9 302.1L119.9 301.8L113.9 301.5L107.9 301.3L101.9 301.1L95.9 301.1L89.9 301L83.9 301L77.9 301.1L71.9 301.1L65.9 301L59.9 300.9L53.9 300.6L48 300.2L42 299.7L36 299L30 298.2L24 297.2L18 296.2L12 295.1L6 293.9L0 292.9Z" fill="#3c3c3c"/>
</g>
<path d="M0 273.6L6.2 274.1L12.4 274.5L18.7 275L24.9 275.4L31.1 275.9L37.3 276.3L43.6 276.7L49.8 277.1L56 277.5" stroke="#b8b8b8" stroke-width="2.4" fill="none" filter="url(#bl1)"/>
<path d="M0 279.1L6 279.5L12 280L18 280.4L24 280.9L30 281.3L36 281.7L42 282.1L48 282.5" stroke="#555" stroke-width="1.6" fill="none" filter="url(#bl1)"/>
<path d="M138 271.5L144.2 272.4L150.4 273L156.5 273.6L162.7 274.2L168.9 274.7L175.1 275.2L181.3 275.7L187.5 276.2L193.6 276.6L199.8 277.1L206 277.5" stroke="#b8b8b8" stroke-width="2.4" fill="none" filter="url(#bl1)"/>
<path d="M138 277L144 277.9L150 278.5L156 279.1L162 279.6L168 280.1L174 280.6L180 281.1L186 281.5L192 282L198 282.4" stroke="#555" stroke-width="1.6" fill="none" filter="url(#bl1)"/>
<path d="M281 271.5L287.2 272.3L293.5 272.9L299.8 273.5L306 274L312.2 274.5L318.5 274.9L324.8 275.4L331 275.8L337.2 276.3L343.5 276.7L349.8 277.1L356 277.5" stroke="#b8b8b8" stroke-width="2.4" fill="none" filter="url(#bl1)"/>
<path d="M281 277L287.1 277.8L293.2 278.4L299.3 278.9L305.4 279.4L311.5 279.9L317.5 280.4L323.6 280.8L329.7 281.2L335.8 281.7L341.9 282.1L348 282.5" stroke="#555" stroke-width="1.6" fill="none" filter="url(#bl1)"/>
<path d="M434 271.5L439.8 272.2L445.5 272.7L451.3 273.2L457.1 273.6L462.9 274L468.6 274.4L474.4 274.8L480.2 275.1L486 275.5L491.7 275.9L497.5 276.2" stroke="#b8b8b8" stroke-width="2.4" fill="none" filter="url(#bl1)"/>
<path d="M434 277L439.8 277.7L445.5 278.2L451.3 278.7L457.1 279.1L462.9 279.5L468.6 279.9L474.4 280.3L480.2 280.6L486 281L491.7 281.4L497.5 281.7" stroke="#555" stroke-width="1.6" fill="none" filter="url(#bl1)"/>
<rect width="497.5" height="2.4" fill="#000"/>
<rect y="345.6" width="497.5" height="3" fill="#000"/>
<rect width="1.2" height="348.3" fill="#000"/>
</g>
<g transform="translate(242.3 527.8)" clip-path="url(#ec3)">
<rect width="466.7" height="195.9" fill="#0e0e0e"/>
<path d="M0 0L6 0L12 0L17.9 0L23.9 0L29.9 0L35.9 0L41.9 0L47.9 0L53.9 0L59.8 0L65.8 0L71.8 0L77.8 0L83.8 0L89.8 0L95.7 0L101.7 0L107.7 0L113.7 0L119.7 0L125.6 0L131.6 0L137.6 0L143.6 0L149.6 0L155.6 0L161.5 0L167.5 0L173.5 0L179.5 0L185.5 0L191.5 0L197.5 0L203.4 0L209.4 0L215.4 0L221.4 0L227.4 0L233.3 0L239.3 0L245.3 0L251.3 0L257.3 0L263.3 0L269.2 0L275.2 0L281.2 0L287.2 0L293.2 0L299.2 0L305.2 0L311.1 0L317.1 0L323.1 0L329.1 0L335.1 0L341 0L347 0L353 0L359 0L365 0L371 0L376.9 0L382.9 0L388.9 0L394.9 0L400.9 0L406.9 0L412.8 0L418.8 0L424.8 0L430.8 0L436.8 0L442.8 0L448.8 0L454.7 0L460.7 0L466.7 0L466.7 42.8L460.7 42.8L454.7 42.6L448.8 42.4L442.8 42.3L436.8 43.1L430.8 49L424.8 55.9L418.8 58.4L412.8 58.5L406.9 58L400.9 57L394.9 55.8L388.9 54.8L382.9 54.2L376.9 53.7L371 50.2L365 46.8L359 46.6L353 46.7L347 46.3L341 45.6L335.1 44.7L329.1 44.1L323.1 43.7L317.1 43.7L311.1 44.1L305.2 44.5L299.2 48.6L293.2 53.3L287.2 75.1L281.2 75.7L275.2 74.8L269.2 73.9L263.3 73.2L257.3 72.7L251.3 72.6L245.3 72.7L239.3 72.2L233.3 68.8L227.4 62.9L221.4 55.9L215.4 49.2L209.4 44.5L203.4 42.6L197.5 43.1L191.5 43.8L185.5 44.4L179.5 44.6L173.5 44.4L167.5 47.3L161.5 51.1L155.6 61.9L149.6 77.4L143.6 77.2L137.6 76.2L131.6 74.4L125.6 72.4L119.7 70.4L113.7 69.1L107.7 67.2L101.7 61.3L95.7 53.2L89.8 45.7L83.8 41.6L77.8 41.6L71.8 41.9L65.8 42L59.8 41.9L53.9 41.6L47.9 41.5L41.9 41.6L35.9 41.9L29.9 42.5L23.9 44.2L17.9 47.6L12 51.5L6 54.3L0 55Z" fill="#141414"/>
<path d="M0 141.6L6 142.9L12 144.7L17.9 147L23.9 149.5L29.9 152.1L35.9 154.6L41.9 156.7L47.9 158.4L53.9 159.6L59.8 160L65.8 159.7L71.8 158.8L77.8 157.2L83.8 155.1L89.8 152.7L95.7 150.1L101.7 147.5L107.7 145.2L113.7 143.2L119.7 141.9L125.6 141.1L131.6 141.1L137.6 141.7L143.6 143.1L149.6 144.9L155.6 147.2L161.5 149.8L167.5 152.4L173.5 154.8L179.5 156.9L185.5 158.6L191.5 159.6L197.5 160L203.4 159.7L209.4 158.6L215.4 157L221.4 154.8L227.4 152.4L233.3 149.8L239.3 147.3L245.3 145L251.3 143.1L257.3 141.7L263.3 141.1L269.2 141.1L275.2 141.8L281.2 143.2L287.2 145.1L293.2 147.5L299.2 150L305.2 152.6L311.1 155L317.1 157.1L323.1 158.7L329.1 159.7L335.1 160L341 159.6L347 158.5L353 156.8L359 154.6L365 152.1L371 149.5L376.9 147L382.9 144.7L388.9 142.9L394.9 141.6L400.9 141L406.9 141.1L412.8 142L418.8 143.4L424.8 145.4L430.8 147.7L436.8 150.3L442.8 152.9L448.8 155.3L454.7 157.3L460.7 158.9L466.7 159.8L466.7 178.5L460.7 178.3L454.7 177.9L448.8 177.4L442.8 176.7L436.8 176.1L430.8 175.4L424.8 174.7L418.8 174.2L412.8 173.8L406.9 173.6L400.9 173.5L394.9 173.6L388.9 173.9L382.9 174.4L376.9 175L371 175.6L365 176.3L359 177L353 177.6L347 178L341 178.4L335.1 178.5L329.1 178.4L323.1 178.2L317.1 177.8L311.1 177.3L305.2 176.7L299.2 176L293.2 175.3L287.2 174.7L281.2 174.2L275.2 173.8L269.2 173.5L263.3 173.5L257.3 173.7L251.3 174L245.3 174.5L239.3 175L233.3 175.7L227.4 176.4L221.4 177L215.4 177.6L209.4 178.1L203.4 178.4L197.5 178.5L191.5 178.4L185.5 178.2L179.5 177.8L173.5 177.2L167.5 176.6L161.5 175.9L155.6 175.2L149.6 174.6L143.6 174.1L137.6 173.7L131.6 173.5L125.6 173.5L119.7 173.7L113.7 174L107.7 174.5L101.7 175.1L95.7 175.8L89.8 176.5L83.8 177.1L77.8 177.7L71.8 178.1L65.8 178.4L59.8 178.5L53.9 178.4L47.9 178.2L41.9 177.7L35.9 177.2L29.9 176.5L23.9 175.8L17.9 175.2L12 174.6L6 174.1L0 173.7Z" fill="#1c1c1c"/>
<path d="M0 181.7L6 182.1L12 182.6L17.9 183.2L23.9 183.8L29.9 184.5L35.9 185.2L41.9 185.7L47.9 186.2L53.9 186.4L59.8 186.5L65.8 186.4L71.8 186.1L77.8 185.7L83.8 185.1L89.8 184.5L95.7 183.8L101.7 183.1L107.7 182.5L113.7 182L119.7 181.7L125.6 181.5L131.6 181.5L137.6 181.7L143.6 182.1L149.6 182.6L155.6 183.2L161.5 183.9L167.5 184.6L173.5 185.2L179.5 185.8L185.5 186.2L191.5 186.4L197.5 186.5L203.4 186.4L209.4 186.1L215.4 185.6L221.4 185L227.4 184.4L233.3 183.7L239.3 183L245.3 182.5L251.3 182L257.3 181.7L263.3 181.5L269.2 181.5L275.2 181.8L281.2 182.2L287.2 182.7L293.2 183.3L299.2 184L305.2 184.7L311.1 185.3L317.1 185.8L323.1 186.2L329.1 186.4L335.1 186.5L341 186.4L347 186L353 185.6L359 185L365 184.3L371 183.6L376.9 183L382.9 182.4L388.9 181.9L394.9 181.6L400.9 181.5L406.9 181.6L412.8 181.8L418.8 182.2L424.8 182.7L430.8 183.4L436.8 184.1L442.8 184.7L448.8 185.4L454.7 185.9L460.7 186.3L466.7 186.5L466.7 194L460.7 194L454.7 194L448.8 194L442.8 194L436.8 194L430.8 194L424.8 194L418.8 194L412.8 194L406.9 194L400.9 194L394.9 194L388.9 194L382.9 194L376.9 194L371 194L365 194L359 194L353 194L347 194L341 194L335.1 194L329.1 194L323.1 194L317.1 194L311.1 194L305.2 194L299.2 194L293.2 194L287.2 194L281.2 194L275.2 194L269.2 194L263.3 194L257.3 194L251.3 194L245.3 194L239.3 194L233.3 194L227.4 194L221.4 194L215.4 194L209.4 194L203.4 194L197.5 194L191.5 194L185.5 194L179.5 194L173.5 194L167.5 194L161.5 194L155.6 194L149.6 194L143.6 194L137.6 194L131.6 194L125.6 194L119.7 194L113.7 194L107.7 194L101.7 194L95.7 194L89.8 194L83.8 194L77.8 194L71.8 194L65.8 194L59.8 194L53.9 194L47.9 194L41.9 194L35.9 194L29.9 194L23.9 194L17.9 194L12 194L6 194L0 194Z" fill="#6c6c6c"/>
<g filter="url(#sk3)">
<path d="M0 0L6 0L12 0L17.9 0L23.9 0L29.9 0L35.9 0L41.9 0L47.9 0L53.9 0L59.8 0L65.8 0L71.8 0L77.8 0L83.8 0L89.8 0L95.7 0L101.7 0L107.7 0L113.7 0L119.7 0L125.6 0L131.6 0L137.6 0L143.6 0L149.6 0L155.6 0L161.5 0L167.5 0L173.5 0L179.5 0L185.5 0L191.5 0L197.5 0L203.4 0L209.4 0L215.4 0L221.4 0L227.4 0L233.3 0L239.3 0L245.3 0L251.3 0L257.3 0L263.3 0L269.2 0L275.2 0L281.2 0L287.2 0L293.2 0L299.2 0L305.2 0L311.1 0L317.1 0L323.1 0L329.1 0L335.1 0L341 0L347 0L353 0L359 0L365 0L371 0L376.9 0L382.9 0L388.9 0L394.9 0L400.9 0L406.9 0L412.8 0L418.8 0L424.8 0L430.8 0L436.8 0L442.8 0L448.8 0L454.7 0L460.7 0L466.7 0L466.7 42.8L460.7 42.8L454.7 42.6L448.8 42.4L442.8 42.3L436.8 43.1L430.8 49L424.8 55.9L418.8 58.4L412.8 58.5L406.9 58L400.9 57L394.9 55.8L388.9 54.8L382.9 54.2L376.9 53.7L371 50.2L365 46.8L359 46.6L353 46.7L347 46.3L341 45.6L335.1 44.7L329.1 44.1L323.1 43.7L317.1 43.7L311.1 44.1L305.2 44.5L299.2 48.6L293.2 53.3L287.2 75.1L281.2 75.7L275.2 74.8L269.2 73.9L263.3 73.2L257.3 72.7L251.3 72.6L245.3 72.7L239.3 72.2L233.3 68.8L227.4 62.9L221.4 55.9L215.4 49.2L209.4 44.5L203.4 42.6L197.5 43.1L191.5 43.8L185.5 44.4L179.5 44.6L173.5 44.4L167.5 47.3L161.5 51.1L155.6 61.9L149.6 77.4L143.6 77.2L137.6 76.2L131.6 74.4L125.6 72.4L119.7 70.4L113.7 69.1L107.7 67.2L101.7 61.3L95.7 53.2L89.8 45.7L83.8 41.6L77.8 41.6L71.8 41.9L65.8 42L59.8 41.9L53.9 41.6L47.9 41.5L41.9 41.6L35.9 41.9L29.9 42.5L23.9 44.2L17.9 47.6L12 51.5L6 54.3L0 55Z" fill="#8a8a8a"/>
<path d="M0 141.6L6 142.9L12 144.7L17.9 147L23.9 149.5L29.9 152.1L35.9 154.6L41.9 156.7L47.9 158.4L53.9 159.6L59.8 160L65.8 159.7L71.8 158.8L77.8 157.2L83.8 155.1L89.8 152.7L95.7 150.1L101.7 147.5L107.7 145.2L113.7 143.2L119.7 141.9L125.6 141.1L131.6 141.1L137.6 141.7L143.6 143.1L149.6 144.9L155.6 147.2L161.5 149.8L167.5 152.4L173.5 154.8L179.5 156.9L185.5 158.6L191.5 159.6L197.5 160L203.4 159.7L209.4 158.6L215.4 157L221.4 154.8L227.4 152.4L233.3 149.8L239.3 147.3L245.3 145L251.3 143.1L257.3 141.7L263.3 141.1L269.2 141.1L275.2 141.8L281.2 143.2L287.2 145.1L293.2 147.5L299.2 150L305.2 152.6L311.1 155L317.1 157.1L323.1 158.7L329.1 159.7L335.1 160L341 159.6L347 158.5L353 156.8L359 154.6L365 152.1L371 149.5L376.9 147L382.9 144.7L388.9 142.9L394.9 141.6L400.9 141L406.9 141.1L412.8 142L418.8 143.4L424.8 145.4L430.8 147.7L436.8 150.3L442.8 152.9L448.8 155.3L454.7 157.3L460.7 158.9L466.7 159.8L466.7 179.5L460.7 179.3L454.7 178.9L448.8 178.4L442.8 177.7L436.8 177.1L430.8 176.4L424.8 175.7L418.8 175.2L412.8 174.8L406.9 174.6L400.9 174.5L394.9 174.6L388.9 174.9L382.9 175.4L376.9 176L371 176.6L365 177.3L359 178L353 178.6L347 179L341 179.4L335.1 179.5L329.1 179.4L323.1 179.2L317.1 178.8L311.1 178.3L305.2 177.7L299.2 177L293.2 176.3L287.2 175.7L281.2 175.2L275.2 174.8L269.2 174.5L263.3 174.5L257.3 174.7L251.3 175L245.3 175.5L239.3 176L233.3 176.7L227.4 177.4L221.4 178L215.4 178.6L209.4 179.1L203.4 179.4L197.5 179.5L191.5 179.4L185.5 179.2L179.5 178.8L173.5 178.2L167.5 177.6L161.5 176.9L155.6 176.2L149.6 175.6L143.6 175.1L137.6 174.7L131.6 174.5L125.6 174.5L119.7 174.7L113.7 175L107.7 175.5L101.7 176.1L95.7 176.8L89.8 177.5L83.8 178.1L77.8 178.7L71.8 179.1L65.8 179.4L59.8 179.5L53.9 179.4L47.9 179.2L41.9 178.7L35.9 178.2L29.9 177.5L23.9 176.8L17.9 176.2L12 175.6L6 175.1L0 174.7Z" fill="#858585"/>
<path d="M0 181.7L6 182.1L12 182.6L17.9 183.2L23.9 183.8L29.9 184.5L35.9 185.2L41.9 185.7L47.9 186.2L53.9 186.4L59.8 186.5L65.8 186.4L71.8 186.1L77.8 185.7L83.8 185.1L89.8 184.5L95.7 183.8L101.7 183.1L107.7 182.5L113.7 182L119.7 181.7L125.6 181.5L131.6 181.5L137.6 181.7L143.6 182.1L149.6 182.6L155.6 183.2L161.5 183.9L167.5 184.6L173.5 185.2L179.5 185.8L185.5 186.2L191.5 186.4L197.5 186.5L203.4 186.4L209.4 186.1L215.4 185.6L221.4 185L227.4 184.4L233.3 183.7L239.3 183L245.3 182.5L251.3 182L257.3 181.7L263.3 181.5L269.2 181.5L275.2 181.8L281.2 182.2L287.2 182.7L293.2 183.3L299.2 184L305.2 184.7L311.1 185.3L317.1 185.8L323.1 186.2L329.1 186.4L335.1 186.5L341 186.4L347 186L353 185.6L359 185L365 184.3L371 183.6L376.9 183L382.9 182.4L388.9 181.9L394.9 181.6L400.9 181.5L406.9 181.6L412.8 181.8L418.8 182.2L424.8 182.7L430.8 183.4L436.8 184.1L442.8 184.7L448.8 185.4L454.7 185.9L460.7 186.3L466.7 186.5L466.7 193L460.7 193L454.7 193L448.8 193L442.8 193L436.8 193L430.8 193L424.8 193L418.8 193L412.8 193L406.9 193L400.9 193L394.9 193L388.9 193L382.9 193L376.9 193L371 193L365 193L359 193L353 193L347 193L341 193L335.1 193L329.1 193L323.1 193L317.1 193L311.1 193L305.2 193L299.2 193L293.2 193L287.2 193L281.2 193L275.2 193L269.2 193L263.3 193L257.3 193L251.3 193L245.3 193L239.3 193L233.3 193L227.4 193L221.4 193L215.4 193L209.4 193L203.4 193L197.5 193L191.5 193L185.5 193L179.5 193L173.5 193L167.5 193L161.5 193L155.6 193L149.6 193L143.6 193L137.6 193L131.6 193L125.6 193L119.7 193L113.7 193L107.7 193L101.7 193L95.7 193L89.8 193L83.8 193L77.8 193L71.8 193L65.8 193L59.8 193L53.9 193L47.9 193L41.9 193L35.9 193L29.9 193L23.9 193L17.9 193L12 193L6 193L0 193Z" fill="#e8e8e8"/>
</g>
<path d="M-16 122.4L-9.7 122.1L-3.4 122L2.9 122.1L9.1 122.7L15.4 123.8L21.7 125.4L28 127.4" stroke="#686868" stroke-width="1.5" fill="none" filter="url(#bl1)"/>
<path d="M-16 126.4L-9.7 126.1L-3.4 126L2.9 126.1L9.1 126.7L15.4 127.8L21.7 129.4L28 131.4" stroke="#4e4e4e" stroke-width="1.5" fill="none" filter="url(#bl1)"/>
<path d="M-16 130.4L-9.7 130.1L-3.4 130L2.9 130.1L9.1 130.7L15.4 131.8L21.7 133.4L28 135.4" stroke="#3c3c3c" stroke-width="1.5" fill="none" filter="url(#bl1)"/>
<path d="M126 119.5L132 119.2L138 119L144 119L150 119.4L156 120.2L162 121.4L168 123.1L174 125.1" stroke="#686868" stroke-width="1.5" fill="none" filter="url(#bl1)"/>
<path d="M126 123.5L132 123.2L138 123L144 123L150 123.4L156 124.2L162 125.4L168 127.1L174 129.1" stroke="#4e4e4e" stroke-width="1.5" fill="none" filter="url(#bl1)"/>
<path d="M126 127.5L132 127.2L138 127L144 127L150 127.4L156 128.2L162 129.4L168 131.1L174 133.1" stroke="#3c3c3c" stroke-width="1.5" fill="none" filter="url(#bl1)"/>
<path d="M257 117.6L262.8 117.3L268.6 117.1L274.3 117L280.1 117.2L285.9 117.7L291.7 118.7L297.4 120L303.2 121.8L309 123.9" stroke="#686868" stroke-width="1.5" fill="none" filter="url(#bl1)"/>
<path d="M257 121.6L262.8 121.3L268.6 121.1L274.3 121L280.1 121.2L285.9 121.7L291.7 122.7L297.4 124L303.2 125.8L309 127.9" stroke="#4e4e4e" stroke-width="1.5" fill="none" filter="url(#bl1)"/>
<path d="M257 125.6L262.8 125.3L268.6 125.1L274.3 125L280.1 125.2L285.9 125.7L291.7 126.7L297.4 128L303.2 129.8L309 131.9" stroke="#3c3c3c" stroke-width="1.5" fill="none" filter="url(#bl1)"/>
<path d="M396 127.3L401.7 127.1L407.4 127L413.1 127.2L418.9 127.7L424.6 128.6L430.3 130L436 131.7" stroke="#686868" stroke-width="1.5" fill="none" filter="url(#bl1)"/>
<path d="M396 131.3L401.7 131.1L407.4 131L413.1 131.2L418.9 131.7L424.6 132.6L430.3 134L436 135.7" stroke="#4e4e4e" stroke-width="1.5" fill="none" filter="url(#bl1)"/>
<path d="M396 135.3L401.7 135.1L407.4 135L413.1 135.2L418.9 135.7L424.6 136.6L430.3 138L436 139.7" stroke="#3c3c3c" stroke-width="1.5" fill="none" filter="url(#bl1)"/>
<path d="M0 22L6 21.7L12 21.5L17.9 21.3L23.9 21L29.9 20.8L35.9 20.6L41.9 20.4L47.9 20.2L53.9 20L59.8 19.8L65.8 19.6L71.8 19.4L77.8 19.2L83.8 19.1L89.8 18.9L95.7 18.7L101.7 18.6L107.7 18.4L113.7 18.3L119.7 18.2L125.6 18.1L131.6 17.9L137.6 17.8L143.6 17.7L149.6 17.6L155.6 17.6L161.5 17.5L167.5 17.4L173.5 17.3L179.5 17.3L185.5 17.2L191.5 17.2L197.5 17.1L203.4 17.1L209.4 17.1L215.4 17L221.4 17L227.4 17L233.3 17L239.3 17L245.3 17L251.3 17L257.3 17.1L263.3 17.1L269.2 17.1L275.2 17.2L281.2 17.2L287.2 17.3L293.2 17.3L299.2 17.4L305.2 17.5L311.1 17.6L317.1 17.7L323.1 17.7L329.1 17.9L335.1 18L341 18.1L347 18.2L353 18.3L359 18.5L365 18.6L371 18.8L376.9 18.9L382.9 19.1L388.9 19.2L394.9 19.4L400.9 19.6L406.9 19.8L412.8 20L418.8 20.2L424.8 20.4L430.8 20.6L436.8 20.8L442.8 21.1L448.8 21.3L454.7 21.5L460.7 21.8L466.7 22" stroke="#cdcdcd" stroke-width="2.6" fill="none" filter="url(#bl1)"/>
<path d="M60 12.8L66 12.6L72 12.4L77.9 12.2L83.9 12L89.9 11.9L95.9 11.7L101.9 11.6L107.8 11.4L113.8 11.3L119.8 11.2L125.8 11.1L131.8 10.9L137.8 10.8L143.7 10.7L149.7 10.6L155.7 10.6L161.7 10.5L167.7 10.4L173.6 10.3L179.6 10.3L185.6 10.2L191.6 10.2L197.6 10.1L203.5 10.1L209.5 10.1L215.5 10L221.5 10L227.5 10L233.4 10L239.4 10L245.4 10L251.4 10L257.4 10.1L263.4 10.1L269.3 10.1L275.3 10.2L281.3 10.2L287.3 10.3L293.3 10.3L299.2 10.4L305.2 10.5L311.2 10.6L317.2 10.7L323.2 10.7L329.1 10.9L335.1 11L341.1 11.1L347.1 11.2L353.1 11.3L359 11.5L365 11.6L371 11.8L377 11.9L383 12.1L388.9 12.2L394.9 12.4L400.9 12.6L406.9 12.8L412.9 13L418.9 13.2L424.8 13.4L430.8 13.6L436.8 13.8L442.8 14.1L448.8 14.3L454.7 14.5L460.7 14.8L466.7 15" stroke="#808080" stroke-width="1.6" fill="none" filter="url(#bl1)"/>
<path d="M0 55L4 54.8L8 53.6L12 51.5L16 49L19.9 46.4L23.9 44.2L27.9 42.8L31.9 42.3L35.9 41.9L39.9 41.7L43.9 41.5L47.9 41.5L51.9 41.6L55.8 41.7L59.8 41.9L63.8 42L67.8 42L71.8 41.9L75.8 41.7L79.8 41.4L83.8 41.6L87.8 43.9L91.7 48L95.7 53.2L99.7 58.7L103.7 63.7L107.7 67.2L111.7 68.9L115.7 69.4L119.7 70.4L123.7 71.7L127.6 73.1L131.6 74.4L135.6 75.7L139.6 76.6L143.6 77.2L147.6 77.4L151.6 75.7L155.6 61.9L159.6 51.4L163.5 50.3L167.5 47.3L171.5 44.8L175.5 44.5L179.5 44.6L183.5 44.5L187.5 44.3L191.5 43.8L195.5 43.3L199.4 42.9L203.4 42.6L207.4 43.5L211.4 45.8L215.4 49.2L219.4 53.5L223.4 58.2L227.4 62.9L231.4 67L235.3 70.3L239.3 72.2L243.3 72.8L247.3 72.7L251.3 72.6L255.3 72.7L259.3 72.8L263.3 73.2L267.3 73.6L271.2 74.2L275.2 74.8L279.2 75.5L283.2 76L287.2 75.1L291.2 59.2L295.2 52.5L299.2 48.6L303.2 44.8L307.1 44.3L311.1 44.1L315.1 43.8L319.1 43.7L323.1 43.7L327.1 43.9L331.1 44.3L335.1 44.7L339.1 45.3L343 45.8L347 46.3L351 46.6L355 46.7L359 46.6L363 46.5L367 47.6L371 50.2L375 52.8L378.9 54.2L382.9 54.2L386.9 54.5L390.9 55.1L394.9 55.8L398.9 56.6L402.9 57.4L406.9 58L410.9 58.4L414.8 58.6L418.8 58.4L422.8 57.4L426.8 53.9L430.8 49L434.8 44.6L438.8 42.3L442.8 42.3L446.8 42.4L450.7 42.5L454.7 42.6L458.7 42.7L462.7 42.8L466.7 42.8" stroke="#a0a0a0" stroke-width="1.8" fill="none" filter="url(#bl1)"/>
<path d="M0 141.6L6 142.9L12 144.7L17.9 147L23.9 149.5L29.9 152.1L35.9 154.6L41.9 156.7L47.9 158.4L53.9 159.6L59.8 160L65.8 159.7L71.8 158.8L77.8 157.2L83.8 155.1L89.8 152.7L95.7 150.1L101.7 147.5L107.7 145.2L113.7 143.2L119.7 141.9L125.6 141.1L131.6 141.1L137.6 141.7L143.6 143.1L149.6 144.9L155.6 147.2L161.5 149.8L167.5 152.4L173.5 154.8L179.5 156.9L185.5 158.6L191.5 159.6L197.5 160L203.4 159.7L209.4 158.6L215.4 157L221.4 154.8L227.4 152.4L233.3 149.8L239.3 147.3L245.3 145L251.3 143.1L257.3 141.7L263.3 141.1L269.2 141.1L275.2 141.8L281.2 143.2L287.2 145.1L293.2 147.5L299.2 150L305.2 152.6L311.1 155L317.1 157.1L323.1 158.7L329.1 159.7L335.1 160L341 159.6L347 158.5L353 156.8L359 154.6L365 152.1L371 149.5L376.9 147L382.9 144.7L388.9 142.9L394.9 141.6L400.9 141L406.9 141.1L412.8 142L418.8 143.4L424.8 145.4L430.8 147.7L436.8 150.3L442.8 152.9L448.8 155.3L454.7 157.3L460.7 158.9L466.7 159.8" stroke="#8a8a8a" stroke-width="1.7" fill="none" filter="url(#bl1)"/>
<path d="M0 178.7L6 179.1L12 179.6L17.9 180.2L23.9 180.8L29.9 181.5L35.9 182.2L41.9 182.7L47.9 183.2L53.9 183.4L59.8 183.5L65.8 183.4L71.8 183.1L77.8 182.7L83.8 182.1L89.8 181.5L95.7 180.8L101.7 180.1L107.7 179.5L113.7 179L119.7 178.7L125.6 178.5L131.6 178.5L137.6 178.7L143.6 179.1L149.6 179.6L155.6 180.2L161.5 180.9L167.5 181.6L173.5 182.2L179.5 182.8L185.5 183.2L191.5 183.4L197.5 183.5L203.4 183.4L209.4 183.1L215.4 182.6L221.4 182L227.4 181.4L233.3 180.7L239.3 180L245.3 179.5L251.3 179L257.3 178.7L263.3 178.5L269.2 178.5L275.2 178.8L281.2 179.2L287.2 179.7L293.2 180.3L299.2 181L305.2 181.7L311.1 182.3L317.1 182.8L323.1 183.2L329.1 183.4L335.1 183.5L341 183.4L347 183L353 182.6L359 182L365 181.3L371 180.6L376.9 180L382.9 179.4L388.9 178.9L394.9 178.6L400.9 178.5L406.9 178.6L412.8 178.8L418.8 179.2L424.8 179.7L430.8 180.4L436.8 181.1L442.8 181.7L448.8 182.4L454.7 182.9L460.7 183.3L466.7 183.5" stroke="#fafafa" stroke-width="8.5" fill="none" filter="url(#bl2)"/>
<rect width="466.7" height="195.9" filter="url(#spk)" opacity="0.16"/>
<rect y="192.9" width="466.7" height="3" fill="#000"/>
</g>
<g transform="translate(752.8 530.3)" clip-path="url(#ec4)">
<rect width="497" height="234.1" fill="#0b0b0b"/>
<path d="M0 6L6 6L12 6L18 6L24 6L29.9 6L35.9 6L41.9 6L47.9 6L53.9 6L59.9 6L65.9 6L71.9 6L77.8 6L83.8 6L89.8 6L95.8 6L101.8 6L107.8 6L113.8 6L119.8 6L125.7 6L131.7 6L137.7 6L143.7 6L149.7 6L155.7 6L161.7 6L167.7 6L173.7 6L179.6 6L185.6 6L191.6 6L197.6 6L203.6 6L209.6 6L215.6 6L221.6 6L227.5 6L233.5 6L239.5 6L245.5 6L251.5 6L257.5 6L263.5 6L269.5 6L275.4 6L281.4 6L287.4 6L293.4 6L299.4 6L305.4 6L311.4 6L317.4 6L323.3 6L329.3 6L335.3 6L341.3 6L347.3 6L353.3 6L359.3 6L365.3 6L371.3 6L377.2 6L383.2 6L389.2 6L395.2 6L401.2 6L407.2 6L413.2 6L419.2 6L425.1 6L431.1 6L437.1 6L443.1 6L449.1 6L455.1 6L461.1 6L467.1 6L473 6L479 6L485 6L491 6L497 6L497 54L491 53.5L485 52.4L479 51L473 50.1L467.1 49.9L461.1 49.4L455.1 48.5L449.1 47.4L443.1 46.5L437.1 46L431.1 46.2L425.1 47.3L419.2 48.8L413.2 49.8L407.2 50.2L401.2 51.9L395.2 54.9L389.2 58L383.2 60.3L377.2 61L371.3 60.4L365.3 59L359.3 57.1L353.3 55.2L347.3 53.7L341.3 53L335.3 52.8L329.3 51.8L323.3 50.4L317.4 48.8L311.4 47.3L305.4 46.3L299.4 46L293.4 46L287.4 46L281.4 46L275.4 46L269.5 46L263.5 46.1L257.5 47.8L251.5 51.1L245.5 54.7L239.5 57.3L233.5 58L227.5 59.2L221.6 61.4L215.6 63.8L209.6 65.5L203.6 66L197.6 65.4L191.6 64.1L185.6 62.3L179.6 60.5L173.7 59L167.7 58.2L161.7 57.8L155.7 55.3L149.7 51.3L143.7 47.9L137.7 47L131.7 47L125.7 47L119.8 47L113.8 47L107.8 47L101.8 47L95.8 47L89.8 48.2L83.8 50.3L77.8 51.8L71.9 52.7L65.9 56.9L59.9 59.9L53.9 59.8L47.9 59.3L41.9 58.4L35.9 57.2L29.9 55.8L24 54.5L18 53.3L12 52.3L6 51.7L0 51.5Z" fill="#181818"/>
<path d="M0 190L6 189.1L12 186.9L18 184.1L24 181.9L29.9 181L35.9 181.2L41.9 181.6L47.9 182.4L53.9 183.4L59.9 184.7L65.9 186L71.9 187.5L77.8 188.9L83.8 190.3L89.8 191.5L95.8 192.6L101.8 193.3L107.8 193.8L113.8 194L119.8 194.2L125.7 194.6L131.7 195.2L137.7 195.8L143.7 196.3L149.7 196.5L155.7 196.1L161.7 194.8L167.7 192.9L173.7 190.9L179.6 189.2L185.6 188.2L191.6 188L197.6 188L203.6 187.9L209.6 187.8L215.6 187.7L221.6 187.6L227.5 187.4L233.5 187.3L239.5 187.2L245.5 187.1L251.5 187L257.5 187L263.5 187L269.5 186.9L275.4 186.8L281.4 186.6L287.4 186.4L293.4 186.1L299.4 185.9L305.4 185.6L311.4 185.4L317.4 185.2L323.3 185.1L329.3 185L335.3 185L341.3 185.2L347.3 185.5L353.3 186L359.3 186.6L365.3 187.4L371.3 188.3L377.2 189.2L383.2 190.2L389.2 191.1L395.2 192.1L401.2 193L407.2 193.8L413.2 194.4L419.2 195L425.1 195.4L431.1 195.6L437.1 195.6L443.1 195.5L449.1 195.2L455.1 194.7L461.1 194.2L467.1 193.7L473 193.2L479 192.7L485 192.3L491 192.1L497 192L497 229L491 229L485 229L479 229L473 229L467.1 229L461.1 229L455.1 229L449.1 229L443.1 229L437.1 229L431.1 229L425.1 229L419.2 229L413.2 229L407.2 229L401.2 229L395.2 229L389.2 229L383.2 229L377.2 229L371.3 229L365.3 229L359.3 229L353.3 229L347.3 229L341.3 229L335.3 229L329.3 229L323.3 229L317.4 229L311.4 229L305.4 229L299.4 229L293.4 229L287.4 229L281.4 229L275.4 229L269.5 229L263.5 229L257.5 229L251.5 229L245.5 229L239.5 229L233.5 229L227.5 229L221.6 229L215.6 229L209.6 229L203.6 229L197.6 229L191.6 229L185.6 229L179.6 229L173.7 229L167.7 229L161.7 229L155.7 229L149.7 229L143.7 229L137.7 229L131.7 229L125.7 229L119.8 229L113.8 229L107.8 229L101.8 229L95.8 229L89.8 229L83.8 229L77.8 229L71.9 229L65.9 229L59.9 229L53.9 229L47.9 229L41.9 229L35.9 229L29.9 229L24 229L18 229L12 229L6 229L0 229Z" fill="#2a2a2a"/>
<path d="M-10 212L-4 212L2 212L8 211.5L14 210.8L20.1 210L26.1 209.4L32.1 209.3L38.1 209.4L44.1 209.6L50.1 209.8L56.1 210.2L62.1 210.5L68.2 211L74.2 211.4L80.2 211.8L86.2 212.2L92.2 212.6L98.2 212.9L104.2 213.1L110.2 213.2L116.2 213.2L122.3 213.3L128.3 213.5L134.3 213.6L140.3 213.8L146.3 213.9L152.3 213.9L158.3 213.7L164.3 213.2L170.3 212.6L176.4 212L182.4 211.6L188.4 211.4L194.4 211.4L200.4 211.4L206.4 211.4L212.4 211.3L218.4 211.3L224.5 211.3L230.5 211.2L236.5 211.2L242.5 211.1L248.5 211.1L254.5 211.1L260.5 211.1L266.5 211.1L272.5 211.1L278.6 211L284.6 210.9L290.6 210.9L296.6 210.8L302.6 210.7L308.6 210.7L314.6 210.6L320.6 210.5L326.7 210.5L332.7 210.5L338.7 210.5L344.7 210.6L350.7 210.7L356.7 210.9L362.7 211.1L368.7 211.4L374.7 211.6L380.8 211.9L386.8 212.2L392.8 212.5L398.8 212.8L404.8 213L410.8 213.3L416.8 213.4L422.8 213.6L428.8 213.7L434.9 213.7L440.9 213.7L446.9 213.6L452.9 213.5L458.9 213.3L464.9 213.2L470.9 213L476.9 212.9L483 212.7L489 212.6L495 212.6L501 212.6L507 212.6L507 236L501 236L495 236L489 236L483 236L476.9 236L470.9 236L464.9 236L458.9 236L452.9 236L446.9 236L440.9 236L434.9 236L428.8 236L422.8 236L416.8 236L410.8 236L404.8 236L398.8 236L392.8 236L386.8 236L380.8 236L374.7 236L368.7 236L362.7 236L356.7 236L350.7 236L344.7 236L338.7 236L332.7 236L326.7 236L320.6 236L314.6 236L308.6 236L302.6 236L296.6 236L290.6 236L284.6 236L278.6 236L272.5 236L266.5 236L260.5 236L254.5 236L248.5 236L242.5 236L236.5 236L230.5 236L224.5 236L218.4 236L212.4 236L206.4 236L200.4 236L194.4 236L188.4 236L182.4 236L176.4 236L170.3 236L164.3 236L158.3 236L152.3 236L146.3 236L140.3 236L134.3 236L128.3 236L122.3 236L116.2 236L110.2 236L104.2 236L98.2 236L92.2 236L86.2 236L80.2 236L74.2 236L68.2 236L62.1 236L56.1 236L50.1 236L44.1 236L38.1 236L32.1 236L26.1 236L20.1 236L14 236L8 236L2 236L-4 236L-10 236Z" fill="#9a9a9a" filter="url(#bl2)"/>
<g filter="url(#sk4)">
<path d="M0 20L6 20L12 20L18 20L24 20L29.9 20L35.9 20L41.9 20L47.9 20L53.9 20L59.9 20L65.9 20L71.9 20L77.8 20L83.8 20L89.8 20L95.8 20L101.8 20L107.8 20.2L113.8 20.7L119.8 21.4L125.7 22.1L131.7 22.8L137.7 23.4L143.7 23.8L149.7 24L155.7 24.2L161.7 24.9L167.7 26L173.7 27.3L179.6 28.5L185.6 29.6L191.6 30.3L197.6 30.5L203.6 30.1L209.6 29.2L215.6 27.9L221.6 26.5L227.5 25.3L233.5 24.4L239.5 24L245.5 23.7L251.5 23L257.5 21.8L263.5 20.4L269.5 19.2L275.4 18.4L281.4 18L287.4 18.1L293.4 18.3L299.4 18.7L305.4 19.2L311.4 19.7L317.4 20.1L323.3 20.4L329.3 20.5L335.3 20.6L341.3 21L347.3 21.6L353.3 22.2L359.3 22.7L365.3 23L371.3 22.9L377.2 22.5L383.2 21.8L389.2 21.1L395.2 20.6L401.2 20.5L407.2 20.2L413.2 19.7L419.2 19.1L425.1 18.5L431.1 18.1L437.1 18L443.1 18.4L449.1 19L455.1 19.8L461.1 20.5L467.1 20.9L473 21.1L479 21.5L485 22.2L491 22.8L497 23L497 54L491 53.5L485 52.4L479 51L473 50.1L467.1 49.9L461.1 49.4L455.1 48.5L449.1 47.4L443.1 46.5L437.1 46L431.1 46.2L425.1 47.3L419.2 48.8L413.2 49.8L407.2 50.2L401.2 51.9L395.2 54.9L389.2 58L383.2 60.3L377.2 61L371.3 60.4L365.3 59L359.3 57.1L353.3 55.2L347.3 53.7L341.3 53L335.3 52.8L329.3 51.8L323.3 50.4L317.4 48.8L311.4 47.3L305.4 46.3L299.4 46L293.4 46L287.4 46L281.4 46L275.4 46L269.5 46L263.5 46.1L257.5 47.8L251.5 51.1L245.5 54.7L239.5 57.3L233.5 58L227.5 59.2L221.6 61.4L215.6 63.8L209.6 65.5L203.6 66L197.6 65.4L191.6 64.1L185.6 62.3L179.6 60.5L173.7 59L167.7 58.2L161.7 57.8L155.7 55.3L149.7 51.3L143.7 47.9L137.7 47L131.7 47L125.7 47L119.8 47L113.8 47L107.8 47L101.8 47L95.8 47L89.8 48.2L83.8 50.3L77.8 51.8L71.9 52.7L65.9 56.9L59.9 59.9L53.9 59.8L47.9 59.3L41.9 58.4L35.9 57.2L29.9 55.8L24 54.5L18 53.3L12 52.3L6 51.7L0 51.5Z" fill="#8c8c8c"/>
<path d="M0 210L6 210L12 210L18 210L24 210L29.9 210L35.9 210L41.9 210L47.9 210L53.9 210L59.9 210L65.9 210L71.9 210L77.8 210L83.8 210L89.8 210L95.8 210L101.8 210L107.8 210L113.8 210L119.8 210L125.7 210L131.7 210L137.7 210L143.7 210L149.7 210L155.7 210L161.7 210L167.7 210L173.7 210L179.6 210L185.6 210L191.6 210L197.6 210L203.6 210L209.6 210L215.6 210L221.6 210L227.5 210L233.5 210L239.5 210L245.5 210L251.5 210L257.5 210L263.5 210L269.5 210L275.4 210L281.4 210L287.4 210L293.4 210L299.4 210L305.4 210L311.4 210L317.4 210L323.3 210L329.3 210L335.3 210L341.3 210L347.3 210L353.3 210L359.3 210L365.3 210L371.3 210L377.2 210L383.2 210L389.2 210L395.2 210L401.2 210L407.2 210L413.2 210L419.2 210L425.1 210L431.1 210L437.1 210L443.1 210L449.1 210L455.1 210L461.1 210L467.1 210L473 210L479 210L485 210L491 210L497 210L497 229L491 229L485 229L479 229L473 229L467.1 229L461.1 229L455.1 229L449.1 229L443.1 229L437.1 229L431.1 229L425.1 229L419.2 229L413.2 229L407.2 229L401.2 229L395.2 229L389.2 229L383.2 229L377.2 229L371.3 229L365.3 229L359.3 229L353.3 229L347.3 229L341.3 229L335.3 229L329.3 229L323.3 229L317.4 229L311.4 229L305.4 229L299.4 229L293.4 229L287.4 229L281.4 229L275.4 229L269.5 229L263.5 229L257.5 229L251.5 229L245.5 229L239.5 229L233.5 229L227.5 229L221.6 229L215.6 229L209.6 229L203.6 229L197.6 229L191.6 229L185.6 229L179.6 229L173.7 229L167.7 229L161.7 229L155.7 229L149.7 229L143.7 229L137.7 229L131.7 229L125.7 229L119.8 229L113.8 229L107.8 229L101.8 229L95.8 229L89.8 229L83.8 229L77.8 229L71.9 229L65.9 229L59.9 229L53.9 229L47.9 229L41.9 229L35.9 229L29.9 229L24 229L18 229L12 229L6 229L0 229Z" fill="#ffffff"/>
<path d="M0 192L6 191.1L12 188.9L18 186.1L24 183.9L29.9 183L35.9 183.2L41.9 183.6L47.9 184.4L53.9 185.4L59.9 186.7L65.9 188L71.9 189.5L77.8 190.9L83.8 192.3L89.8 193.5L95.8 194.6L101.8 195.3L107.8 195.8L113.8 196L119.8 196.2L125.7 196.6L131.7 197.2L137.7 197.8L143.7 198.3L149.7 198.5L155.7 198.1L161.7 196.8L167.7 194.9L173.7 192.9L179.6 191.2L185.6 190.2L191.6 190L197.6 190L203.6 189.9L209.6 189.8L215.6 189.7L221.6 189.6L227.5 189.4L233.5 189.3L239.5 189.2L245.5 189.1L251.5 189L257.5 189L263.5 189L269.5 188.9L275.4 188.8L281.4 188.6L287.4 188.4L293.4 188.1L299.4 187.9L305.4 187.6L311.4 187.4L317.4 187.2L323.3 187.1L329.3 187L335.3 187L341.3 187.2L347.3 187.5L353.3 188L359.3 188.6L365.3 189.4L371.3 190.3L377.2 191.2L383.2 192.2L389.2 193.1L395.2 194.1L401.2 195L407.2 195.8L413.2 196.4L419.2 197L425.1 197.4L431.1 197.6L437.1 197.6L443.1 197.5L449.1 197.2L455.1 196.7L461.1 196.2L467.1 195.7L473 195.2L479 194.7L485 194.3L491 194.1L497 194L497 210L491 210L485 210L479 210L473 210L467.1 210L461.1 210L455.1 210L449.1 210L443.1 210L437.1 210L431.1 210L425.1 210L419.2 210L413.2 210L407.2 210L401.2 210L395.2 210L389.2 210L383.2 210L377.2 210L371.3 210L365.3 210L359.3 210L353.3 210L347.3 210L341.3 210L335.3 210L329.3 210L323.3 210L317.4 210L311.4 210L305.4 210L299.4 210L293.4 210L287.4 210L281.4 210L275.4 210L269.5 210L263.5 210L257.5 210L251.5 210L245.5 210L239.5 210L233.5 210L227.5 210L221.6 210L215.6 210L209.6 210L203.6 210L197.6 210L191.6 210L185.6 210L179.6 210L173.7 210L167.7 210L161.7 210L155.7 210L149.7 210L143.7 210L137.7 210L131.7 210L125.7 210L119.8 210L113.8 210L107.8 210L101.8 210L95.8 210L89.8 210L83.8 210L77.8 210L71.9 210L65.9 210L59.9 210L53.9 210L47.9 210L41.9 210L35.9 210L29.9 210L24 210L18 210L12 210L6 210L0 210Z" fill="#a0a0a0"/>
<ellipse cx="47" cy="148" rx="22" ry="7" fill="#7a7a7a"/>
<ellipse cx="200" cy="157" rx="27" ry="10" fill="#7a7a7a"/>
<ellipse cx="364" cy="150" rx="24" ry="8" fill="#7a7a7a"/>
<ellipse cx="118" cy="42" rx="16" ry="5" fill="#e0e0e0"/>
</g>
<path d="M0 16L4 16L8 16L12 16L16 16L20 16L24 16L28.1 16L32.1 16L36.1 16L40.1 16L44.1 16L48.1 16L52.1 16L56.1 16L60.1 16L64.1 16L68.1 16L72.1 16L76.2 16L80.2 16L84.2 16L88.2 16L92.2 16L96.2 16L100.2 16L104.2 16.1L108.2 16.3L112.2 16.6L116.2 17L120.2 17.4L124.2 17.9L128.3 18.4L132.3 18.9L136.3 19.3L140.3 19.6L144.3 19.9L148.3 20L152.3 20L156.3 20.3L160.3 20.7L164.3 21.4L168.3 22.2L172.3 23L176.4 23.9L180.4 24.7L184.4 25.4L188.4 26L192.4 26.3L196.4 26.5L200.4 26.4L204.4 26L208.4 25.4L212.4 24.6L216.4 23.7L220.4 22.8L224.5 21.9L228.5 21.1L232.5 20.5L236.5 20.1L240.5 20L244.5 19.8L248.5 19.4L252.5 18.8L256.5 18L260.5 17.1L264.5 16.2L268.5 15.4L272.5 14.7L276.6 14.2L280.6 14L284.6 14L288.6 14.1L292.6 14.3L296.6 14.5L300.6 14.8L304.6 15.1L308.6 15.5L312.6 15.8L316.6 16.1L320.6 16.3L324.7 16.4L328.7 16.5L332.7 16.5L336.7 16.7L340.7 17L344.7 17.4L348.7 17.8L352.7 18.2L356.7 18.6L360.7 18.8L364.7 19L368.7 19L372.8 18.8L376.8 18.5L380.8 18.1L384.8 17.6L388.8 17.1L392.8 16.8L396.8 16.6L400.8 16.5L404.8 16.4L408.8 16.1L412.8 15.8L416.8 15.3L420.8 14.9L424.9 14.5L428.9 14.2L432.9 14L436.9 14L440.9 14.2L444.9 14.6L448.9 15L452.9 15.6L456.9 16.1L460.9 16.5L464.9 16.8L468.9 17L473 17.1L477 17.3L481 17.7L485 18.2L489 18.6L493 18.9L497 19" stroke="#fbfbfb" stroke-width="6.6" fill="none" filter="url(#bl1)"/>
<path d="M0 8.5L4 8.5L8 8.5L12 8.5L16 8.5L20 8.5L24 8.5L28.1 8.5L32.1 8.5L36.1 8.5L40.1 8.5L44.1 8.5L48.1 8.5L52.1 8.5L56.1 8.5L60.1 8.5L64.1 8.5L68.1 8.5L72.1 8.5L76.2 8.5L80.2 8.5L84.2 8.5L88.2 8.5L92.2 8.5L96.2 8.5L100.2 8.5L104.2 8.6L108.2 8.8L112.2 9.1L116.2 9.5L120.2 9.9L124.2 10.4L128.3 10.9L132.3 11.4L136.3 11.8L140.3 12.1L144.3 12.4L148.3 12.5L152.3 12.5L156.3 12.8L160.3 13.2L164.3 13.9L168.3 14.7L172.3 15.5L176.4 16.4L180.4 17.2L184.4 17.9L188.4 18.5L192.4 18.8L196.4 19L200.4 18.9L204.4 18.5L208.4 17.9L212.4 17.1L216.4 16.2L220.4 15.3L224.5 14.4L228.5 13.6L232.5 13L236.5 12.6L240.5 12.5L244.5 12.3L248.5 11.9L252.5 11.3L256.5 10.5L260.5 9.6L264.5 8.7L268.5 7.9L272.5 7.2L276.6 6.7L280.6 6.5L284.6 6.5L288.6 6.6L292.6 6.8L296.6 7L300.6 7.3L304.6 7.6L308.6 8L312.6 8.3L316.6 8.6L320.6 8.8L324.7 8.9L328.7 9L332.7 9L336.7 9.2L340.7 9.5L344.7 9.9L348.7 10.3L352.7 10.7L356.7 11.1L360.7 11.3L364.7 11.5L368.7 11.5L372.8 11.3L376.8 11L380.8 10.6L384.8 10.1L388.8 9.6L392.8 9.3L396.8 9.1L400.8 9L404.8 8.9L408.8 8.6L412.8 8.3L416.8 7.8L420.8 7.4L424.9 7L428.9 6.7L432.9 6.5L436.9 6.5L440.9 6.7L444.9 7.1L448.9 7.5L452.9 8.1L456.9 8.6L460.9 9L464.9 9.3L468.9 9.5L473 9.6L477 9.8L481 10.2L485 10.7L489 11.1L493 11.4L497 11.5" stroke="#8c8c8c" stroke-width="1.8" fill="none" filter="url(#bl1)"/>
<path d="M0 51.5L4 51.6L8 51.9L12 52.3L16 53L20 53.7L24 54.5L28.1 55.4L32.1 56.3L36.1 57.2L40.1 58L44.1 58.7L48.1 59.3L52.1 59.7L56.1 59.9L60.1 59.9L64.1 58.1L68.1 55.1L72.1 52.6L76.2 52L80.2 51.4L84.2 50.1L88.2 48.7L92.2 47.6L96.2 47L100.2 47L104.2 47L108.2 47L112.2 47L116.2 47L120.2 47L124.2 47L128.3 47L132.3 47L136.3 47L140.3 47.1L144.3 48.2L148.3 50.3L152.3 53.1L156.3 55.6L160.3 57.4L164.3 58L168.3 58.2L172.3 58.8L176.4 59.7L180.4 60.8L184.4 62L188.4 63.2L192.4 64.3L196.4 65.2L200.4 65.8L204.4 66L208.4 65.7L212.4 64.8L216.4 63.5L220.4 61.8L224.5 60.2L228.5 58.9L232.5 58.1L236.5 57.9L240.5 57L244.5 55.3L248.5 52.9L252.5 50.4L256.5 48.2L260.5 46.6L264.5 46L268.5 46L272.5 46L276.6 46L280.6 46L284.6 46L288.6 46L292.6 46L296.6 46L300.6 46L304.6 46.2L308.6 46.8L312.6 47.6L316.6 48.6L320.6 49.7L324.7 50.8L328.7 51.7L332.7 52.4L336.7 52.9L340.7 53L344.7 53.3L348.7 54L352.7 55L356.7 56.2L360.7 57.6L364.7 58.8L368.7 59.9L372.8 60.6L376.8 61L380.8 60.8L384.8 59.8L388.8 58.2L392.8 56.2L396.8 54L400.8 52.1L404.8 50.7L408.8 50L412.8 49.9L416.8 49.3L420.8 48.4L424.9 47.4L428.9 46.6L432.9 46.1L436.9 46L440.9 46.3L444.9 46.7L448.9 47.4L452.9 48.1L456.9 48.8L460.9 49.4L464.9 49.8L468.9 50L473 50.1L477 50.6L481 51.4L485 52.3L489 53.2L493 53.8L497 54" stroke="#9a9a9a" stroke-width="1.7" fill="none" filter="url(#bl1)"/>
<path d="M0 193L6 192.1L12 189.9L18 187.1L24 184.9L29.9 184L35.9 184.2L41.9 184.6L47.9 185.4L53.9 186.4L59.9 187.7L65.9 189L71.9 190.5L77.8 191.9L83.8 193.3L89.8 194.5L95.8 195.6L101.8 196.3L107.8 196.8L113.8 197L119.8 197.2L125.7 197.6L131.7 198.2L137.7 198.8L143.7 199.3L149.7 199.5L155.7 199.1L161.7 197.8L167.7 195.9L173.7 193.9L179.6 192.2L185.6 191.2L191.6 191L197.6 191L203.6 190.9L209.6 190.8L215.6 190.7L221.6 190.6L227.5 190.4L233.5 190.3L239.5 190.2L245.5 190.1L251.5 190L257.5 190L263.5 190L269.5 189.9L275.4 189.8L281.4 189.6L287.4 189.4L293.4 189.1L299.4 188.9L305.4 188.6L311.4 188.4L317.4 188.2L323.3 188.1L329.3 188L335.3 188L341.3 188.2L347.3 188.5L353.3 189L359.3 189.6L365.3 190.4L371.3 191.3L377.2 192.2L383.2 193.2L389.2 194.1L395.2 195.1L401.2 196L407.2 196.8L413.2 197.4L419.2 198L425.1 198.4L431.1 198.6L437.1 198.6L443.1 198.5L449.1 198.2L455.1 197.7L461.1 197.2L467.1 196.7L473 196.2L479 195.7L485 195.3L491 195.1L497 195" stroke="#d0d0d0" stroke-width="2.4" fill="none" filter="url(#bl1)"/>
<path d="M0 200.5L6 199.6L12 197.4L18 194.6L24 192.4L29.9 191.5L35.9 191.7L41.9 192.1L47.9 192.9L53.9 193.9L59.9 195.2L65.9 196.5L71.9 198L77.8 199.4L83.8 200.8L89.8 202L95.8 203.1L101.8 203.8L107.8 204.3L113.8 204.5L119.8 204.7L125.7 205.1L131.7 205.7L137.7 206.3L143.7 206.8L149.7 207L155.7 206.6L161.7 205.3L167.7 203.4L173.7 201.4L179.6 199.7L185.6 198.7L191.6 198.5L197.6 198.5L203.6 198.4L209.6 198.3L215.6 198.2L221.6 198.1L227.5 197.9L233.5 197.8L239.5 197.7L245.5 197.6L251.5 197.5L257.5 197.5L263.5 197.5L269.5 197.4L275.4 197.3L281.4 197.1L287.4 196.9L293.4 196.6L299.4 196.4L305.4 196.1L311.4 195.9L317.4 195.7L323.3 195.6L329.3 195.5L335.3 195.5L341.3 195.7L347.3 196L353.3 196.5L359.3 197.1L365.3 197.9L371.3 198.8L377.2 199.7L383.2 200.7L389.2 201.6L395.2 202.6L401.2 203.5L407.2 204.3L413.2 204.9L419.2 205.5L425.1 205.9L431.1 206.1L437.1 206.1L443.1 206L449.1 205.7L455.1 205.2L461.1 204.7L467.1 204.2L473 203.7L479 203.2L485 202.8L491 202.6L497 202.5" stroke="#ececec" stroke-width="3.2" fill="none" filter="url(#bl1)"/>
<path d="M0 207.5L6 206.9L12 205.5L18 203.7L24 202.2L29.9 201.7L35.9 201.8L41.9 202.1L47.9 202.6L53.9 203.2L59.9 204L65.9 204.9L71.9 205.9L77.8 206.8L83.8 207.7L89.8 208.5L95.8 209.2L101.8 209.7L107.8 210L113.8 210.1L119.8 210.2L125.7 210.5L131.7 210.9L137.7 211.3L143.7 211.6L149.7 211.7L155.7 211.4L161.7 210.6L167.7 209.4L173.7 208.1L179.6 206.9L185.6 206.3L191.6 206.2L197.6 206.2L203.6 206.1L209.6 206.1L215.6 206L221.6 205.9L227.5 205.8L233.5 205.7L239.5 205.7L245.5 205.6L251.5 205.6L257.5 205.6L263.5 205.5L269.5 205.5L275.4 205.4L281.4 205.3L287.4 205.1L293.4 205L299.4 204.8L305.4 204.7L311.4 204.5L317.4 204.4L323.3 204.3L329.3 204.3L335.3 204.3L341.3 204.4L347.3 204.6L353.3 204.9L359.3 205.3L365.3 205.8L371.3 206.4L377.2 207L383.2 207.6L389.2 208.2L395.2 208.9L401.2 209.4L407.2 210L413.2 210.4L419.2 210.7L425.1 211L431.1 211.1L437.1 211.1L443.1 211L449.1 210.9L455.1 210.6L461.1 210.3L467.1 209.9L473 209.6L479 209.3L485 209L491 208.9L497 208.8" stroke="#c4c4c4" stroke-width="2.6" fill="none" filter="url(#bl1)"/>
<rect width="497" height="234.1" filter="url(#spk)" opacity="0.07"/>
<rect width="497" height="5.8" fill="#000"/>
<rect y="228.6" width="497" height="6" fill="#000"/>
</g>
<text x="8.6" y="48.3" font-size="64" fill="#000000" text-anchor="start">A</text>
<text x="-1.6" y="902.7" font-size="64" fill="#000000" text-anchor="start">B</text>
<text x="2" y="1396" font-size="64" fill="#000000" text-anchor="start">C</text>
<text x="1.7" y="1838.7" font-size="64" fill="#000000" text-anchor="start">D</text>
<text x="406.5" y="68.8" font-size="49.5" fill="#000000" text-anchor="start">Sham</text>
<text x="868" y="63.6" font-size="49.2" fill="#000000" text-anchor="start">MI (8-week)</text>
<text x="126.4" y="213.8" font-size="50" fill="#000000" text-anchor="start">WT</text>
<text x="124.8" y="647.2" font-size="50" fill="#000000" text-anchor="start">KO</text>
<path d="M1279.4 471.2H1391.9V402" stroke="#4a7bc0" stroke-width="2" fill="none"/>
<text x="1400.6" y="450.8" font-size="38" fill="#000000" text-anchor="start" letter-spacing="1">1 mm</text>
<text x="1276.9" y="512.7" font-size="38" fill="#000000" text-anchor="start">100 ms</text>
<circle cx="192.4" cy="933" r="8.3" fill="#000"/>
<circle cx="192.4" cy="976.4" r="8.3" fill="#fe0000"/>
<circle cx="192.4" cy="1019.8" r="8" fill="none" stroke="#000" stroke-width="3"/>
<circle cx="192.4" cy="1063" r="8" fill="none" stroke="#fe0000" stroke-width="3"/>
<text x="216.2" y="937.6" font-size="27.3" fill="#000000" text-anchor="start">WT, Sham</text>
<text x="216.2" y="980.2" font-size="27.3" fill="#000000" text-anchor="start">WT, MI</text>
<text x="215.6" y="1026.7" font-size="27.3" fill="#000000" text-anchor="start">KO, Sham</text>
<text x="215.6" y="1069.9" font-size="27.3" fill="#000000" text-anchor="start">KO, MI</text>
<g>
<path d="M156.5 944.85V1278.7" stroke="#000" stroke-width="3" fill="none"/>
<path d="M146.2 1277.2H726" stroke="#000" stroke-width="3.3" fill="none"/>
<text x="141.9" y="1285" font-size="24" fill="#000000" text-anchor="end">0</text>
<text x="141.9" y="1174.7" font-size="24" fill="#000000" text-anchor="end">50</text>
<text x="141.9" y="1064.4" font-size="24" fill="#000000" text-anchor="end">100</text>
<text x="141.9" y="954.1" font-size="24" fill="#000000" text-anchor="end">150</text>
<path d="M146.5 1166.9H156.5M146.5 1056.6H156.5M146.5 946.3H156.5M150.7 1222H156.5M150.7 1111.7H156.5M150.7 1001.4H156.5" stroke="#000" stroke-width="2.9" fill="none"/>
<path d="M237.4 1277.2V1291.8M338.8 1277.2V1291.8M440.2 1277.2V1291.8M541.5 1277.2V1291.8M642.8 1277.2V1291.8" stroke="#000" stroke-width="3.2" fill="none"/>
<text x="237.7" y="1317.1" font-size="22.5" fill="#000000" text-anchor="middle">Baseline</text>
<text x="339.1" y="1317.1" font-size="22.5" fill="#000000" text-anchor="middle">Week 1</text>
<text x="440.5" y="1317.1" font-size="22.5" fill="#000000" text-anchor="middle">Week 3</text>
<text x="541.8" y="1317.1" font-size="22.5" fill="#000000" text-anchor="middle">Week 5</text>
<text x="643.1" y="1317.1" font-size="22.5" fill="#000000" text-anchor="middle">Week 8</text>
<text transform="translate(86.27 1111.5) rotate(-90)" font-size="27.3" fill="#000000" text-anchor="middle">EDV (ul)</text>
<path d="M237.4 1168.5L338.8 1146L440.2 1130L541.5 1129L642.8 1121" stroke="#fe0000" stroke-width="3.3" fill="none" stroke-dasharray="6.2 9.8" stroke-linecap="round" stroke-linejoin="round"/>
<path d="M237.4 1164.5V1172.5M338.8 1124.4V1169M440.2 1113.6V1145.6M541.5 1110.4V1148M642.8 1104V1138.6" stroke="#fe0000" stroke-width="2.8" fill="none"/>
<path d="M229.5 1164.5H245.3M229.5 1172.5H245.3M330.9 1124.4H346.7M330.9 1169H346.7M432.3 1113.6H448.1M432.3 1145.6H448.1M533.6 1110.4H549.4M533.6 1148H549.4M634.9 1104H650.7M634.9 1138.6H650.7" stroke="#fe0000" stroke-width="3" fill="none"/>
<circle cx="237.4" cy="1168.5" r="7.75" fill="none" stroke="#fe0000" stroke-width="3.5"/>
<circle cx="338.8" cy="1146" r="7.75" fill="none" stroke="#fe0000" stroke-width="3.5"/>
<circle cx="440.2" cy="1130" r="7.75" fill="none" stroke="#fe0000" stroke-width="3.5"/>
<circle cx="541.5" cy="1129" r="7.75" fill="none" stroke="#fe0000" stroke-width="3.5"/>
<circle cx="642.8" cy="1121" r="7.75" fill="none" stroke="#fe0000" stroke-width="3.5"/>
<path d="M237.4 1176.5L338.8 1179.4L440.2 1186L541.5 1169L642.8 1177.6" stroke="#000000" stroke-width="3.3" fill="none" stroke-dasharray="6.2 9.8" stroke-linecap="round" stroke-linejoin="round"/>
<path d="M237.4 1172.5V1180.5M338.8 1172.4V1186.4M440.2 1179V1193M541.5 1157.6V1180.4M642.8 1171.1V1184.1" stroke="#000000" stroke-width="2.8" fill="none"/>
<path d="M229.5 1172.5H245.3M229.5 1180.5H245.3M330.9 1172.4H346.7M330.9 1186.4H346.7M432.3 1179H448.1M432.3 1193H448.1M533.6 1157.6H549.4M533.6 1180.4H549.4M634.9 1171.1H650.7M634.9 1184.1H650.7" stroke="#000000" stroke-width="3" fill="none"/>
<circle cx="237.4" cy="1176.5" r="7.75" fill="none" stroke="#000000" stroke-width="3.5"/>
<circle cx="338.8" cy="1179.4" r="7.75" fill="none" stroke="#000000" stroke-width="3.5"/>
<circle cx="440.2" cy="1186" r="7.75" fill="none" stroke="#000000" stroke-width="3.5"/>
<circle cx="541.5" cy="1169" r="7.75" fill="none" stroke="#000000" stroke-width="3.5"/>
<circle cx="642.8" cy="1177.6" r="7.75" fill="none" stroke="#000000" stroke-width="3.5"/>
<path d="M237.4 1168L338.8 1091L440.2 1078.4L541.5 1040.4L642.8 1039.6" stroke="#fe0000" stroke-width="3.5" fill="none" stroke-linejoin="round"/>
<path d="M237.4 1163V1173M338.8 1074.4V1110M440.2 1056V1100.4M541.5 1015.6V1066.4M642.8 1018V1061" stroke="#fe0000" stroke-width="2.8" fill="none"/>
<path d="M229.5 1163H245.3M229.5 1173H245.3M330.9 1074.4H346.7M330.9 1110H346.7M432.3 1056H448.1M432.3 1100.4H448.1M533.6 1015.6H549.4M533.6 1066.4H549.4M634.9 1018H650.7M634.9 1061H650.7" stroke="#fe0000" stroke-width="3" fill="none"/>
<circle cx="237.4" cy="1168" r="8.4" fill="#fe0000"/>
<circle cx="338.8" cy="1091" r="8.4" fill="#fe0000"/>
<circle cx="440.2" cy="1078.4" r="8.4" fill="#fe0000"/>
<circle cx="541.5" cy="1040.4" r="8.4" fill="#fe0000"/>
<circle cx="642.8" cy="1039.6" r="8.4" fill="#fe0000"/>
<path d="M237.4 1177L338.8 1189.5L440.2 1191.5L541.5 1180L642.8 1188.6" stroke="#000000" stroke-width="3.5" fill="none" stroke-linejoin="round"/>
<path d="M237.4 1173V1181M338.8 1183.5V1195.5M440.2 1185V1198M541.5 1174.5V1185.5M642.8 1184.6V1192.6" stroke="#000000" stroke-width="2.8" fill="none"/>
<path d="M229.5 1173H245.3M229.5 1181H245.3M330.9 1183.5H346.7M330.9 1195.5H346.7M432.3 1185H448.1M432.3 1198H448.1M533.6 1174.5H549.4M533.6 1185.5H549.4M634.9 1184.6H650.7M634.9 1192.6H650.7" stroke="#000000" stroke-width="3" fill="none"/>
<circle cx="237.4" cy="1177" r="8.4" fill="#000000"/>
<circle cx="338.8" cy="1189.5" r="8.4" fill="#000000"/>
<circle cx="440.2" cy="1191.5" r="8.4" fill="#000000"/>
<circle cx="541.5" cy="1180" r="8.4" fill="#000000"/>
<circle cx="642.8" cy="1188.6" r="8.4" fill="#000000"/>
</g>
<g>
<path d="M891.3 945.35V1280.5" stroke="#000" stroke-width="3" fill="none"/>
<path d="M881 1279H1467" stroke="#000" stroke-width="3.3" fill="none"/>
<text x="876.7" y="1286.8" font-size="24" fill="#000000" text-anchor="end">0</text>
<text x="876.7" y="1176.1" font-size="24" fill="#000000" text-anchor="end">50</text>
<text x="876.7" y="1065.3" font-size="24" fill="#000000" text-anchor="end">100</text>
<text x="876.7" y="954.6" font-size="24" fill="#000000" text-anchor="end">150</text>
<path d="M881.3 1168.3H891.3M881.3 1057.5H891.3M881.3 946.8H891.3M885.5 1223.6H891.3M885.5 1112.9H891.3M885.5 1002.2H891.3" stroke="#000" stroke-width="2.9" fill="none"/>
<path d="M973.2 1279V1293.6M1075.9 1279V1293.6M1178.4 1279V1293.6M1281 1279V1293.6M1383.5 1279V1293.6" stroke="#000" stroke-width="3.2" fill="none"/>
<text x="973.3" y="1320.7" font-size="22.7" fill="#000000" text-anchor="middle">Baseline</text>
<text x="1076" y="1320.7" font-size="22.7" fill="#000000" text-anchor="middle">Week 1</text>
<text x="1178.5" y="1320.7" font-size="22.7" fill="#000000" text-anchor="middle">Week 3</text>
<text x="1281.1" y="1320.7" font-size="22.7" fill="#000000" text-anchor="middle">Week 5</text>
<text x="1383.6" y="1320.7" font-size="22.7" fill="#000000" text-anchor="middle">Week 8</text>
<text transform="translate(819.27 1112.5) rotate(-90)" font-size="27.3" fill="#000000" text-anchor="middle">ESV (ul)</text>
<path d="M973.2 1236L1075.9 1196.5L1178.4 1189.7L1281 1183L1383.5 1175" stroke="#fe0000" stroke-width="3.3" fill="none" stroke-dasharray="6.2 9.8" stroke-linecap="round" stroke-linejoin="round"/>
<path d="M973.2 1233V1239M1075.9 1173.5V1218.8M1178.4 1173.5V1205M1281 1165.2V1199.8M1383.5 1157V1193.4" stroke="#fe0000" stroke-width="2.8" fill="none"/>
<path d="M965.3 1233H981.1M965.3 1239H981.1M1068 1173.5H1083.8M1068 1218.8H1083.8M1170.5 1173.5H1186.3M1170.5 1205H1186.3M1273.1 1165.2H1288.9M1273.1 1199.8H1288.9M1375.6 1157H1391.4M1375.6 1193.4H1391.4" stroke="#fe0000" stroke-width="3" fill="none"/>
<circle cx="973.2" cy="1236" r="7.75" fill="none" stroke="#fe0000" stroke-width="3.5"/>
<circle cx="1075.9" cy="1196.5" r="7.75" fill="none" stroke="#fe0000" stroke-width="3.5"/>
<circle cx="1178.4" cy="1189.7" r="7.75" fill="none" stroke="#fe0000" stroke-width="3.5"/>
<circle cx="1281" cy="1183" r="7.75" fill="none" stroke="#fe0000" stroke-width="3.5"/>
<circle cx="1383.5" cy="1175" r="7.75" fill="none" stroke="#fe0000" stroke-width="3.5"/>
<path d="M973.2 1241.5L1075.9 1241.8L1178.4 1242.7L1281 1243.3L1383.5 1243.3" stroke="#000000" stroke-width="3.3" fill="none" stroke-dasharray="6.2 9.8" stroke-linecap="round" stroke-linejoin="round"/>
<path d="M973.2 1238.5V1244.5M1075.9 1238.3V1245.3M1178.4 1239.7V1245.7M1281 1240.3V1246.3M1383.5 1240.3V1246.3" stroke="#000000" stroke-width="2.8" fill="none"/>
<path d="M965.3 1238.5H981.1M965.3 1244.5H981.1M1068 1238.3H1083.8M1068 1245.3H1083.8M1170.5 1239.7H1186.3M1170.5 1245.7H1186.3M1273.1 1240.3H1288.9M1273.1 1246.3H1288.9M1375.6 1240.3H1391.4M1375.6 1246.3H1391.4" stroke="#000000" stroke-width="3" fill="none"/>
<circle cx="973.2" cy="1241.5" r="7.75" fill="none" stroke="#000000" stroke-width="3.5"/>
<circle cx="1075.9" cy="1241.8" r="7.75" fill="none" stroke="#000000" stroke-width="3.5"/>
<circle cx="1178.4" cy="1242.7" r="7.75" fill="none" stroke="#000000" stroke-width="3.5"/>
<circle cx="1281" cy="1243.3" r="7.75" fill="none" stroke="#000000" stroke-width="3.5"/>
<circle cx="1383.5" cy="1243.3" r="7.75" fill="none" stroke="#000000" stroke-width="3.5"/>
<path d="M973.2 1237L1075.9 1133L1178.4 1121.5L1281 1083.2L1383.5 1085" stroke="#fe0000" stroke-width="3.5" fill="none" stroke-linejoin="round"/>
<path d="M973.2 1234V1240M1075.9 1116.3V1150.9M1178.4 1101V1142.3M1281 1059V1106.5M1383.5 1059V1111" stroke="#fe0000" stroke-width="2.8" fill="none"/>
<path d="M965.3 1234H981.1M965.3 1240H981.1M1068 1116.3H1083.8M1068 1150.9H1083.8M1170.5 1101H1186.3M1170.5 1142.3H1186.3M1273.1 1059H1288.9M1273.1 1106.5H1288.9M1375.6 1059H1391.4M1375.6 1111H1391.4" stroke="#fe0000" stroke-width="3" fill="none"/>
<circle cx="973.2" cy="1237" r="8.4" fill="#fe0000"/>
<circle cx="1075.9" cy="1133" r="8.4" fill="#fe0000"/>
<circle cx="1178.4" cy="1121.5" r="8.4" fill="#fe0000"/>
<circle cx="1281" cy="1083.2" r="8.4" fill="#fe0000"/>
<circle cx="1383.5" cy="1085" r="8.4" fill="#fe0000"/>
<path d="M973.2 1243.5L1075.9 1248L1178.4 1244L1281 1245.8L1383.5 1249.4" stroke="#000000" stroke-width="3.5" fill="none" stroke-linejoin="round"/>
<path d="M973.2 1240.5V1246.5M1075.9 1245V1251M1178.4 1241V1247M1281 1242.8V1248.8M1383.5 1246.4V1252.4" stroke="#000000" stroke-width="2.8" fill="none"/>
<path d="M965.3 1240.5H981.1M965.3 1246.5H981.1M1068 1245H1083.8M1068 1251H1083.8M1170.5 1241H1186.3M1170.5 1247H1186.3M1273.1 1242.8H1288.9M1273.1 1248.8H1288.9M1375.6 1246.4H1391.4M1375.6 1252.4H1391.4" stroke="#000000" stroke-width="3" fill="none"/>
<circle cx="973.2" cy="1243.5" r="8.4" fill="#000000"/>
<circle cx="1075.9" cy="1248" r="8.4" fill="#000000"/>
<circle cx="1178.4" cy="1244" r="8.4" fill="#000000"/>
<circle cx="1281" cy="1245.8" r="8.4" fill="#000000"/>
<circle cx="1383.5" cy="1249.4" r="8.4" fill="#000000"/>
</g>
<g>
<path d="M156.8 1386.05V1719.1" stroke="#000" stroke-width="3" fill="none"/>
<path d="M146.5 1717.6H727" stroke="#000" stroke-width="3.3" fill="none"/>
<text x="142.2" y="1725.4" font-size="24" fill="#000000" text-anchor="end">0</text>
<text x="142.2" y="1642.9" font-size="24" fill="#000000" text-anchor="end">20</text>
<text x="142.2" y="1560.4" font-size="24" fill="#000000" text-anchor="end">40</text>
<text x="142.2" y="1477.8" font-size="24" fill="#000000" text-anchor="end">60</text>
<text x="142.2" y="1395.3" font-size="24" fill="#000000" text-anchor="end">80</text>
<path d="M146.8 1635.1H156.8M146.8 1552.6H156.8M146.8 1470H156.8M146.8 1387.5H156.8M151 1676.3H156.8M151 1593.8H156.8M151 1511.3H156.8M151 1428.8H156.8" stroke="#000" stroke-width="2.9" fill="none"/>
<path d="M237.6 1717.6V1732.2M339.4 1717.6V1732.2M440.9 1717.6V1732.2M542.4 1717.6V1732.2M644.3 1717.6V1732.2" stroke="#000" stroke-width="3.2" fill="none"/>
<text x="238.1" y="1760.2" font-size="22.5" fill="#000000" text-anchor="middle">Baseline</text>
<text x="339.9" y="1760.2" font-size="22.5" fill="#000000" text-anchor="middle">Week 1</text>
<text x="441.4" y="1760.2" font-size="22.5" fill="#000000" text-anchor="middle">Week 3</text>
<text x="542.9" y="1760.2" font-size="22.5" fill="#000000" text-anchor="middle">Week 5</text>
<text x="644.8" y="1760.2" font-size="22.5" fill="#000000" text-anchor="middle">Week 8</text>
<text transform="translate(99.45 1555.6) rotate(-90)" font-size="27.8" fill="#000000" text-anchor="middle">Ejection Fraction (%)</text>
<path d="M237.6 1454L339.4 1536.8L440.9 1543.3L542.4 1558.5L644.3 1562.4" stroke="#fe0000" stroke-width="3.3" fill="none" stroke-dasharray="6.2 9.8" stroke-linecap="round" stroke-linejoin="round"/>
<path d="M237.6 1444.2V1462.4M339.4 1513V1559.3M440.9 1521V1565.5M542.4 1535.8V1581M644.3 1543.3V1581.8" stroke="#fe0000" stroke-width="2.8" fill="none"/>
<path d="M229.7 1444.2H245.5M229.7 1462.4H245.5M331.5 1513H347.3M331.5 1559.3H347.3M433 1521H448.8M433 1565.5H448.8M534.5 1535.8H550.3M534.5 1581H550.3M636.4 1543.3H652.2M636.4 1581.8H652.2" stroke="#fe0000" stroke-width="3" fill="none"/>
<circle cx="237.6" cy="1454" r="7.75" fill="none" stroke="#fe0000" stroke-width="3.5"/>
<circle cx="339.4" cy="1536.8" r="7.75" fill="none" stroke="#fe0000" stroke-width="3.5"/>
<circle cx="440.9" cy="1543.3" r="7.75" fill="none" stroke="#fe0000" stroke-width="3.5"/>
<circle cx="542.4" cy="1558.5" r="7.75" fill="none" stroke="#fe0000" stroke-width="3.5"/>
<circle cx="644.3" cy="1562.4" r="7.75" fill="none" stroke="#fe0000" stroke-width="3.5"/>
<path d="M237.6 1433.8L339.4 1437.5L440.9 1448.7L542.4 1446.9L644.3 1451.5" stroke="#000000" stroke-width="3.3" fill="none" stroke-dasharray="6.2 9.8" stroke-linecap="round" stroke-linejoin="round"/>
<path d="M237.6 1424.5V1443.1M339.4 1430.5V1444.5M440.9 1437V1460.4M542.4 1436.9V1456.9M644.3 1444V1459" stroke="#000000" stroke-width="2.8" fill="none"/>
<path d="M229.7 1424.5H245.5M229.7 1443.1H245.5M331.5 1430.5H347.3M331.5 1444.5H347.3M433 1437H448.8M433 1460.4H448.8M534.5 1436.9H550.3M534.5 1456.9H550.3M636.4 1444H652.2M636.4 1459H652.2" stroke="#000000" stroke-width="3" fill="none"/>
<circle cx="237.6" cy="1433.8" r="7.75" fill="none" stroke="#000000" stroke-width="3.5"/>
<circle cx="339.4" cy="1437.5" r="7.75" fill="none" stroke="#000000" stroke-width="3.5"/>
<circle cx="440.9" cy="1448.7" r="7.75" fill="none" stroke="#000000" stroke-width="3.5"/>
<circle cx="542.4" cy="1446.9" r="7.75" fill="none" stroke="#000000" stroke-width="3.5"/>
<circle cx="644.3" cy="1451.5" r="7.75" fill="none" stroke="#000000" stroke-width="3.5"/>
<path d="M237.6 1454.5L339.4 1605L440.9 1626.2L542.4 1625.5L644.3 1632.7" stroke="#fe0000" stroke-width="3.5" fill="none" stroke-linejoin="round"/>
<path d="M237.6 1441.6V1465M339.4 1587.5V1622M440.9 1613.3V1639M542.4 1612.9V1637.8M644.3 1620.3V1645.3" stroke="#fe0000" stroke-width="2.8" fill="none"/>
<path d="M229.7 1441.6H245.5M229.7 1465H245.5M331.5 1587.5H347.3M331.5 1622H347.3M433 1613.3H448.8M433 1639H448.8M534.5 1612.9H550.3M534.5 1637.8H550.3M636.4 1620.3H652.2M636.4 1645.3H652.2" stroke="#fe0000" stroke-width="3" fill="none"/>
<circle cx="237.6" cy="1454.5" r="8.4" fill="#fe0000"/>
<circle cx="339.4" cy="1605" r="8.4" fill="#fe0000"/>
<circle cx="440.9" cy="1626.2" r="8.4" fill="#fe0000"/>
<circle cx="542.4" cy="1625.5" r="8.4" fill="#fe0000"/>
<circle cx="644.3" cy="1632.7" r="8.4" fill="#fe0000"/>
<path d="M237.6 1454.5L339.4 1450L440.9 1462.7L542.4 1455.7L644.3 1460.9" stroke="#000000" stroke-width="3.5" fill="none" stroke-linejoin="round"/>
<path d="M237.6 1446.5V1462.5M339.4 1439.3V1460.7M440.9 1451.7V1473.7M542.4 1444V1467.4M644.3 1450.9V1470.9" stroke="#000000" stroke-width="2.8" fill="none"/>
<path d="M229.7 1446.5H245.5M229.7 1462.5H245.5M331.5 1439.3H347.3M331.5 1460.7H347.3M433 1451.7H448.8M433 1473.7H448.8M534.5 1444H550.3M534.5 1467.4H550.3M636.4 1450.9H652.2M636.4 1470.9H652.2" stroke="#000000" stroke-width="3" fill="none"/>
<circle cx="237.6" cy="1454.5" r="8.4" fill="#000000"/>
<circle cx="339.4" cy="1450" r="8.4" fill="#000000"/>
<circle cx="440.9" cy="1462.7" r="8.4" fill="#000000"/>
<circle cx="542.4" cy="1455.7" r="8.4" fill="#000000"/>
<circle cx="644.3" cy="1460.9" r="8.4" fill="#000000"/>
</g>
<g>
<path d="M891.3 1385.55V1719" stroke="#000" stroke-width="3" fill="none"/>
<path d="M881 1717.5H1461.5" stroke="#000" stroke-width="3.3" fill="none"/>
<text x="876.7" y="1725.3" font-size="24" fill="#000000" text-anchor="end">0</text>
<text x="876.7" y="1642.7" font-size="24" fill="#000000" text-anchor="end">10</text>
<text x="876.7" y="1560.1" font-size="24" fill="#000000" text-anchor="end">20</text>
<text x="876.7" y="1477.4" font-size="24" fill="#000000" text-anchor="end">30</text>
<text x="876.7" y="1394.8" font-size="24" fill="#000000" text-anchor="end">40</text>
<path d="M881.3 1634.9H891.3M881.3 1552.3H891.3M881.3 1469.6H891.3M881.3 1387H891.3M885.5 1676.2H891.3M885.5 1593.6H891.3M885.5 1510.9H891.3M885.5 1428.3H891.3" stroke="#000" stroke-width="2.9" fill="none"/>
<path d="M972 1717.5V1732.1M1073.8 1717.5V1732.1M1175.6 1717.5V1732.1M1277.2 1717.5V1732.1M1378.8 1717.5V1732.1" stroke="#000" stroke-width="3.2" fill="none"/>
<text x="972.5" y="1759.9" font-size="22.5" fill="#000000" text-anchor="middle">Baseline</text>
<text x="1074.3" y="1759.9" font-size="22.5" fill="#000000" text-anchor="middle">Week 1</text>
<text x="1176.1" y="1759.9" font-size="22.5" fill="#000000" text-anchor="middle">Week 3</text>
<text x="1277.7" y="1759.9" font-size="22.5" fill="#000000" text-anchor="middle">Week 5</text>
<text x="1379.3" y="1759.9" font-size="22.5" fill="#000000" text-anchor="middle">Week 8</text>
<text transform="translate(834.24 1551.9) rotate(-90)" font-size="27.2" fill="#000000" text-anchor="middle">Fractional Shortening (%)</text>
<path d="M972 1442.5L1073.8 1503.8L1175.6 1528.5L1277.2 1531.7L1378.8 1541" stroke="#fe0000" stroke-width="3.3" fill="none" stroke-dasharray="6.2 9.8" stroke-linecap="round" stroke-linejoin="round"/>
<path d="M972 1434.5V1450.5M1073.8 1488.8V1518M1175.6 1514.4V1543M1277.2 1519V1545M1378.8 1522.4V1559.6" stroke="#fe0000" stroke-width="2.8" fill="none"/>
<path d="M964.1 1434.5H979.9M964.1 1450.5H979.9M1065.9 1488.8H1081.7M1065.9 1518H1081.7M1167.7 1514.4H1183.5M1167.7 1543H1183.5M1269.3 1519H1285.1M1269.3 1545H1285.1M1370.9 1522.4H1386.7M1370.9 1559.6H1386.7" stroke="#fe0000" stroke-width="3" fill="none"/>
<circle cx="972" cy="1442.5" r="7.75" fill="none" stroke="#fe0000" stroke-width="3.5"/>
<circle cx="1073.8" cy="1503.8" r="7.75" fill="none" stroke="#fe0000" stroke-width="3.5"/>
<circle cx="1175.6" cy="1528.5" r="7.75" fill="none" stroke="#fe0000" stroke-width="3.5"/>
<circle cx="1277.2" cy="1531.7" r="7.75" fill="none" stroke="#fe0000" stroke-width="3.5"/>
<circle cx="1378.8" cy="1541" r="7.75" fill="none" stroke="#fe0000" stroke-width="3.5"/>
<path d="M972 1438.8L1073.8 1445.8L1175.6 1453.5L1277.2 1449.2L1378.8 1467.8" stroke="#000000" stroke-width="3.3" fill="none" stroke-dasharray="6.2 9.8" stroke-linecap="round" stroke-linejoin="round"/>
<path d="M972 1423.8V1453.8M1073.8 1433.3V1458.3M1175.6 1443V1464M1277.2 1447.2V1451.2M1378.8 1456.8V1478.8" stroke="#000000" stroke-width="2.8" fill="none"/>
<path d="M964.1 1423.8H979.9M964.1 1453.8H979.9M1065.9 1433.3H1081.7M1065.9 1458.3H1081.7M1167.7 1443H1183.5M1167.7 1464H1183.5M1269.3 1447.2H1285.1M1269.3 1451.2H1285.1M1370.9 1456.8H1386.7M1370.9 1478.8H1386.7" stroke="#000000" stroke-width="3" fill="none"/>
<circle cx="972" cy="1438.8" r="7.75" fill="none" stroke="#000000" stroke-width="3.5"/>
<circle cx="1073.8" cy="1445.8" r="7.75" fill="none" stroke="#000000" stroke-width="3.5"/>
<circle cx="1175.6" cy="1453.5" r="7.75" fill="none" stroke="#000000" stroke-width="3.5"/>
<circle cx="1277.2" cy="1449.2" r="7.75" fill="none" stroke="#000000" stroke-width="3.5"/>
<circle cx="1378.8" cy="1467.8" r="7.75" fill="none" stroke="#000000" stroke-width="3.5"/>
<path d="M972 1489.5L1073.8 1578.8L1175.6 1585.7L1277.2 1601.7L1378.8 1601.7" stroke="#fe0000" stroke-width="3.5" fill="none" stroke-linejoin="round"/>
<path d="M972 1473.8V1505M1073.8 1563.8V1593.8M1175.6 1574.3V1595.6M1277.2 1591.6V1612.3M1378.8 1590V1612.9" stroke="#fe0000" stroke-width="2.8" fill="none"/>
<path d="M964.1 1473.8H979.9M964.1 1505H979.9M1065.9 1563.8H1081.7M1065.9 1593.8H1081.7M1167.7 1574.3H1183.5M1167.7 1595.6H1183.5M1269.3 1591.6H1285.1M1269.3 1612.3H1285.1M1370.9 1590H1386.7M1370.9 1612.9H1386.7" stroke="#fe0000" stroke-width="3" fill="none"/>
<circle cx="972" cy="1489.5" r="8.4" fill="#fe0000"/>
<circle cx="1073.8" cy="1578.8" r="8.4" fill="#fe0000"/>
<circle cx="1175.6" cy="1585.7" r="8.4" fill="#fe0000"/>
<circle cx="1277.2" cy="1601.7" r="8.4" fill="#fe0000"/>
<circle cx="1378.8" cy="1601.7" r="8.4" fill="#fe0000"/>
<path d="M972 1457.5L1073.8 1460.8L1175.6 1453.2L1277.2 1467.8L1378.8 1467.3" stroke="#000000" stroke-width="3.5" fill="none" stroke-linejoin="round"/>
<path d="M972 1448.5V1466.5M1073.8 1446.6V1475M1175.6 1438.5V1467.3M1277.2 1453.2V1482.4M1378.8 1453V1479" stroke="#000000" stroke-width="2.8" fill="none"/>
<path d="M964.1 1448.5H979.9M964.1 1466.5H979.9M1065.9 1446.6H1081.7M1065.9 1475H1081.7M1167.7 1438.5H1183.5M1167.7 1467.3H1183.5M1269.3 1453.2H1285.1M1269.3 1482.4H1285.1M1370.9 1453H1386.7M1370.9 1479H1386.7" stroke="#000000" stroke-width="3" fill="none"/>
<circle cx="972" cy="1457.5" r="8.4" fill="#000000"/>
<circle cx="1073.8" cy="1460.8" r="8.4" fill="#000000"/>
<circle cx="1175.6" cy="1453.2" r="8.4" fill="#000000"/>
<circle cx="1277.2" cy="1467.8" r="8.4" fill="#000000"/>
<circle cx="1378.8" cy="1467.3" r="8.4" fill="#000000"/>
</g>
<g>
<path d="M159 1817.85V2150.6" stroke="#000" stroke-width="3" fill="none"/>
<path d="M148.7 2149.1H731" stroke="#000" stroke-width="3.3" fill="none"/>
<text x="144.4" y="2156.9" font-size="24" fill="#000000" text-anchor="end">0.0</text>
<text x="144.4" y="2047" font-size="24" fill="#000000" text-anchor="end">0.5</text>
<text x="144.4" y="1937" font-size="24" fill="#000000" text-anchor="end">1.0</text>
<text x="144.4" y="1827.1" font-size="24" fill="#000000" text-anchor="end">1.5</text>
<path d="M149 2039.2H159M149 1929.2H159M149 1819.3H159M153.2 2094.2H159M153.2 1984.2H159M153.2 1874.3H159" stroke="#000" stroke-width="2.9" fill="none"/>
<path d="M240.7 2149.1V2163.7M342.7 2149.1V2163.7M444.8 2149.1V2163.7M546.8 2149.1V2163.7M648.9 2149.1V2163.7" stroke="#000" stroke-width="3.2" fill="none"/>
<text x="241" y="2193.5" font-size="22.5" fill="#000000" text-anchor="middle">Baseline</text>
<text x="343" y="2193.5" font-size="22.5" fill="#000000" text-anchor="middle">Week 1</text>
<text x="445.1" y="2193.5" font-size="22.5" fill="#000000" text-anchor="middle">Week 3</text>
<text x="547.1" y="2193.5" font-size="22.5" fill="#000000" text-anchor="middle">Week 5</text>
<text x="649.2" y="2193.5" font-size="22.5" fill="#000000" text-anchor="middle">Week 8</text>
<text transform="translate(94.92 1984) rotate(-90)" font-size="27.7" fill="#000000" text-anchor="middle">LVPWd (mm)</text>
<path d="M240.7 1979L342.7 1951L444.8 1956.5L546.8 1951.4L648.9 1951" stroke="#fe0000" stroke-width="3.3" fill="none" stroke-dasharray="6.2 9.8" stroke-linecap="round" stroke-linejoin="round"/>
<path d="M240.7 1970V1988M342.7 1942V1960M444.8 1947.5V1965.5M546.8 1943.4V1959.4M648.9 1944V1958" stroke="#fe0000" stroke-width="2.8" fill="none"/>
<path d="M232.8 1970H248.6M232.8 1988H248.6M334.8 1942H350.6M334.8 1960H350.6M436.9 1947.5H452.7M436.9 1965.5H452.7M538.9 1943.4H554.7M538.9 1959.4H554.7M641 1944H656.8M641 1958H656.8" stroke="#fe0000" stroke-width="3" fill="none"/>
<circle cx="240.7" cy="1979" r="7.75" fill="none" stroke="#fe0000" stroke-width="3.5"/>
<circle cx="342.7" cy="1951" r="7.75" fill="none" stroke="#fe0000" stroke-width="3.5"/>
<circle cx="444.8" cy="1956.5" r="7.75" fill="none" stroke="#fe0000" stroke-width="3.5"/>
<circle cx="546.8" cy="1951.4" r="7.75" fill="none" stroke="#fe0000" stroke-width="3.5"/>
<circle cx="648.9" cy="1951" r="7.75" fill="none" stroke="#fe0000" stroke-width="3.5"/>
<path d="M240.7 1979L342.7 1971L444.8 1966.5L546.8 1965.5L648.9 1960.5" stroke="#000000" stroke-width="3.3" fill="none" stroke-dasharray="6.2 9.8" stroke-linecap="round" stroke-linejoin="round"/>
<path d="M240.7 1970V1988M342.7 1961.5V1980.5M444.8 1958.5V1974.5M546.8 1958.5V1972.5M648.9 1955.5V1965.5" stroke="#000000" stroke-width="2.8" fill="none"/>
<path d="M232.8 1970H248.6M232.8 1988H248.6M334.8 1961.5H350.6M334.8 1980.5H350.6M436.9 1958.5H452.7M436.9 1974.5H452.7M538.9 1958.5H554.7M538.9 1972.5H554.7M641 1955.5H656.8M641 1965.5H656.8" stroke="#000000" stroke-width="3" fill="none"/>
<circle cx="240.7" cy="1979" r="7.75" fill="none" stroke="#000000" stroke-width="3.5"/>
<circle cx="342.7" cy="1971" r="7.75" fill="none" stroke="#000000" stroke-width="3.5"/>
<circle cx="444.8" cy="1966.5" r="7.75" fill="none" stroke="#000000" stroke-width="3.5"/>
<circle cx="546.8" cy="1965.5" r="7.75" fill="none" stroke="#000000" stroke-width="3.5"/>
<circle cx="648.9" cy="1960.5" r="7.75" fill="none" stroke="#000000" stroke-width="3.5"/>
<path d="M240.7 1978.5L342.7 1950.6L444.8 1942L546.8 1943.6L648.9 1939" stroke="#fe0000" stroke-width="3.5" fill="none" stroke-linejoin="round"/>
<path d="M240.7 1969.5V1987.5M342.7 1938.3V1962.9M444.8 1930.4V1953.6M546.8 1935.4V1951.8M648.9 1928.6V1949.4" stroke="#fe0000" stroke-width="2.8" fill="none"/>
<path d="M232.8 1969.5H248.6M232.8 1987.5H248.6M334.8 1938.3H350.6M334.8 1962.9H350.6M436.9 1930.4H452.7M436.9 1953.6H452.7M538.9 1935.4H554.7M538.9 1951.8H554.7M641 1928.6H656.8M641 1949.4H656.8" stroke="#fe0000" stroke-width="3" fill="none"/>
<circle cx="240.7" cy="1978.5" r="8.4" fill="#fe0000"/>
<circle cx="342.7" cy="1950.6" r="8.4" fill="#fe0000"/>
<circle cx="444.8" cy="1942" r="8.4" fill="#fe0000"/>
<circle cx="546.8" cy="1943.6" r="8.4" fill="#fe0000"/>
<circle cx="648.9" cy="1939" r="8.4" fill="#fe0000"/>
<path d="M240.7 1979.3L342.7 1973.5L444.8 1970.7L546.8 1967.7L648.9 1971.6" stroke="#000000" stroke-width="3.5" fill="none" stroke-linejoin="round"/>
<path d="M240.7 1970.3V1988.3M342.7 1964.5V1982.5M444.8 1960.7V1980.7M546.8 1958.7V1976.7M648.9 1968.6V1974.6" stroke="#000000" stroke-width="2.8" fill="none"/>
<path d="M232.8 1970.3H248.6M232.8 1988.3H248.6M334.8 1964.5H350.6M334.8 1982.5H350.6M436.9 1960.7H452.7M436.9 1980.7H452.7M538.9 1958.7H554.7M538.9 1976.7H554.7M641 1968.6H656.8M641 1974.6H656.8" stroke="#000000" stroke-width="3" fill="none"/>
<circle cx="240.7" cy="1979.3" r="8.4" fill="#000000"/>
<circle cx="342.7" cy="1973.5" r="8.4" fill="#000000"/>
<circle cx="444.8" cy="1970.7" r="8.4" fill="#000000"/>
<circle cx="546.8" cy="1967.7" r="8.4" fill="#000000"/>
<circle cx="648.9" cy="1971.6" r="8.4" fill="#000000"/>
</g>
<g>
<path d="M893.1 1816.85V2151.1" stroke="#000" stroke-width="3" fill="none"/>
<path d="M882.8 2149.6H1467" stroke="#000" stroke-width="3.3" fill="none"/>
<text x="878.5" y="2157.4" font-size="24.3" fill="#000000" text-anchor="end">0.0</text>
<text x="878.5" y="2046.9" font-size="24.3" fill="#000000" text-anchor="end">0.5</text>
<text x="878.5" y="1936.5" font-size="24.3" fill="#000000" text-anchor="end">1.0</text>
<text x="878.5" y="1826.1" font-size="24.3" fill="#000000" text-anchor="end">1.5</text>
<path d="M883.1 2039.1H893.1M883.1 1928.7H893.1M883.1 1818.3H893.1M887.3 2094.2H893.1M887.3 1983.9H893.1M887.3 1873.5H893.1" stroke="#000" stroke-width="2.9" fill="none"/>
<path d="M974.5 2149.6V2164.2M1077 2149.6V2164.2M1179.3 2149.6V2164.2M1281.8 2149.6V2164.2M1383.9 2149.6V2164.2" stroke="#000" stroke-width="3.2" fill="none"/>
<text x="975.2" y="2192.2" font-size="22.6" fill="#000000" text-anchor="middle">Baseline</text>
<text x="1077.7" y="2192.2" font-size="22.6" fill="#000000" text-anchor="middle">Week 1</text>
<text x="1180" y="2192.2" font-size="22.6" fill="#000000" text-anchor="middle">Week 3</text>
<text x="1282.5" y="2192.2" font-size="22.6" fill="#000000" text-anchor="middle">Week 5</text>
<text x="1384.6" y="2192.2" font-size="22.6" fill="#000000" text-anchor="middle">Week 8</text>
<text transform="translate(828.7 1983.1) rotate(-90)" font-size="28.2" fill="#000000" text-anchor="middle">LVPWs (mm)</text>
<path d="M974.5 1933L1077 1910L1179.3 1908.8L1281.8 1891L1383.9 1891" stroke="#fe0000" stroke-width="3.3" fill="none" stroke-dasharray="6.2 9.8" stroke-linecap="round" stroke-linejoin="round"/>
<path d="M974.5 1922.3V1943.7M1077 1901V1919M1179.3 1899.8V1917.8M1281.8 1882V1900M1383.9 1882V1900" stroke="#fe0000" stroke-width="2.8" fill="none"/>
<path d="M966.6 1922.3H982.4M966.6 1943.7H982.4M1069.1 1901H1084.9M1069.1 1919H1084.9M1171.4 1899.8H1187.2M1171.4 1917.8H1187.2M1273.9 1882H1289.7M1273.9 1900H1289.7M1376 1882H1391.8M1376 1900H1391.8" stroke="#fe0000" stroke-width="3" fill="none"/>
<circle cx="974.5" cy="1933" r="7.75" fill="none" stroke="#fe0000" stroke-width="3.5"/>
<circle cx="1077" cy="1910" r="7.75" fill="none" stroke="#fe0000" stroke-width="3.5"/>
<circle cx="1179.3" cy="1908.8" r="7.75" fill="none" stroke="#fe0000" stroke-width="3.5"/>
<circle cx="1281.8" cy="1891" r="7.75" fill="none" stroke="#fe0000" stroke-width="3.5"/>
<circle cx="1383.9" cy="1891" r="7.75" fill="none" stroke="#fe0000" stroke-width="3.5"/>
<path d="M974.5 1920L1077 1913L1179.3 1911L1281.8 1902L1383.9 1901.4" stroke="#000000" stroke-width="3.3" fill="none" stroke-dasharray="6.2 9.8" stroke-linecap="round" stroke-linejoin="round"/>
<path d="M974.5 1913V1927M1077 1905V1921M1179.3 1902V1920M1281.8 1894V1910M1383.9 1894.4V1908.4" stroke="#000000" stroke-width="2.8" fill="none"/>
<path d="M966.6 1913H982.4M966.6 1927H982.4M1069.1 1905H1084.9M1069.1 1921H1084.9M1171.4 1902H1187.2M1171.4 1920H1187.2M1273.9 1894H1289.7M1273.9 1910H1289.7M1376 1894.4H1391.8M1376 1908.4H1391.8" stroke="#000000" stroke-width="3" fill="none"/>
<circle cx="974.5" cy="1920" r="7.75" fill="none" stroke="#000000" stroke-width="3.5"/>
<circle cx="1077" cy="1913" r="7.75" fill="none" stroke="#000000" stroke-width="3.5"/>
<circle cx="1179.3" cy="1911" r="7.75" fill="none" stroke="#000000" stroke-width="3.5"/>
<circle cx="1281.8" cy="1902" r="7.75" fill="none" stroke="#000000" stroke-width="3.5"/>
<circle cx="1383.9" cy="1901.4" r="7.75" fill="none" stroke="#000000" stroke-width="3.5"/>
<path d="M974.5 1918.8L1077 1894.2L1179.3 1880.3L1281.8 1873.6L1383.9 1859.8" stroke="#fe0000" stroke-width="3.5" fill="none" stroke-linejoin="round"/>
<path d="M974.5 1910V1927.6M1077 1878.7V1909.7M1179.3 1868.8V1891.8M1281.8 1857.4V1889.8M1383.9 1847.3V1872.3" stroke="#fe0000" stroke-width="2.8" fill="none"/>
<path d="M966.6 1910H982.4M966.6 1927.6H982.4M1069.1 1878.7H1084.9M1069.1 1909.7H1084.9M1171.4 1868.8H1187.2M1171.4 1891.8H1187.2M1273.9 1857.4H1289.7M1273.9 1889.8H1289.7M1376 1847.3H1391.8M1376 1872.3H1391.8" stroke="#fe0000" stroke-width="3" fill="none"/>
<circle cx="974.5" cy="1918.8" r="8.4" fill="#fe0000"/>
<circle cx="1077" cy="1894.2" r="8.4" fill="#fe0000"/>
<circle cx="1179.3" cy="1880.3" r="8.4" fill="#fe0000"/>
<circle cx="1281.8" cy="1873.6" r="8.4" fill="#fe0000"/>
<circle cx="1383.9" cy="1859.8" r="8.4" fill="#fe0000"/>
<path d="M974.5 1932.5L1077 1925.4L1179.3 1918.6L1281.8 1919.5L1383.9 1913.4" stroke="#000000" stroke-width="3.5" fill="none" stroke-linejoin="round"/>
<path d="M974.5 1924.5V1940.5M1077 1915V1935.8M1179.3 1908.6V1928.6M1281.8 1916.5V1922.5M1383.9 1905.1V1921.7" stroke="#000000" stroke-width="2.8" fill="none"/>
<path d="M966.6 1924.5H982.4M966.6 1940.5H982.4M1069.1 1915H1084.9M1069.1 1935.8H1084.9M1171.4 1908.6H1187.2M1171.4 1928.6H1187.2M1273.9 1916.5H1289.7M1273.9 1922.5H1289.7M1376 1905.1H1391.8M1376 1921.7H1391.8" stroke="#000000" stroke-width="3" fill="none"/>
<circle cx="974.5" cy="1932.5" r="8.4" fill="#000000"/>
<circle cx="1077" cy="1925.4" r="8.4" fill="#000000"/>
<circle cx="1179.3" cy="1918.6" r="8.4" fill="#000000"/>
<circle cx="1281.8" cy="1919.5" r="8.4" fill="#000000"/>
<circle cx="1383.9" cy="1913.4" r="8.4" fill="#000000"/>
</g>
<text x="328.03" y="1081.36" font-size="35.4" fill="#fe0000" text-anchor="start" letter-spacing="3.5" stroke="#fe0000" stroke-width="0.5">**</text>
<text x="427.73" y="1063.96" font-size="35.4" fill="#fe0000" text-anchor="start" letter-spacing="3.5" stroke="#fe0000" stroke-width="0.5">**</text>
<text x="528.23" y="1022.56" font-size="35.4" fill="#fe0000" text-anchor="start" letter-spacing="3.5" stroke="#fe0000" stroke-width="0.5">**</text>
<text x="629.13" y="1025.56" font-size="35.4" fill="#fe0000" text-anchor="start" letter-spacing="3.5" stroke="#fe0000" stroke-width="0.5">**</text>
<text x="534.9" y="1103" font-size="18.5" fill="#fe0000" text-anchor="start" stroke="#fe0000" stroke-width="0.35">##</text>
<text x="634.9" y="1097" font-size="18.5" fill="#fe0000" text-anchor="start" stroke="#fe0000" stroke-width="0.35">##</text>
<text x="1062.73" y="1123.06" font-size="35.4" fill="#fe0000" text-anchor="start" letter-spacing="3.5" stroke="#fe0000" stroke-width="0.5">**</text>
<text x="1162.83" y="1108.36" font-size="35.4" fill="#fe0000" text-anchor="start" letter-spacing="3.5" stroke="#fe0000" stroke-width="0.5">**</text>
<text x="1266.83" y="1063.66" font-size="35.4" fill="#fe0000" text-anchor="start" letter-spacing="3.5" stroke="#fe0000" stroke-width="0.5">**</text>
<text x="1369.93" y="1065.06" font-size="35.4" fill="#fe0000" text-anchor="start" letter-spacing="3.5" stroke="#fe0000" stroke-width="0.5">**</text>
<text x="1088.2" y="1181.4" font-size="18.5" fill="#fe0000" text-anchor="start" stroke="#fe0000" stroke-width="0.35">#</text>
<text x="1189.1" y="1177.4" font-size="18.5" fill="#fe0000" text-anchor="start" stroke="#fe0000" stroke-width="0.35">##</text>
<text font-size="35.4" fill="#fe0000"><tspan x="1275.73" y="1172.76" letter-spacing="3.5" stroke="#fe0000" stroke-width="0.5">*</tspan><tspan x="1291.3" y="1166.8" font-size="18.5" stroke="#fe0000" stroke-width="0.35">##</tspan></text>
<text font-size="35.4" fill="#fe0000"><tspan x="1377.53" y="1163.36" letter-spacing="3.5" stroke="#fe0000" stroke-width="0.5">*</tspan><tspan x="1393.3" y="1157.4" font-size="18.5" stroke="#fe0000" stroke-width="0.35">##</tspan></text>
<text font-size="35.4" fill="#fe0000"><tspan x="325.43" y="1587.66" letter-spacing="3.5" stroke="#fe0000" stroke-width="0.5">**</tspan><tspan x="355.9" y="1581.6" font-size="18.5" stroke="#fe0000" stroke-width="0.35">##</tspan></text>
<text font-size="35.4" fill="#fe0000"><tspan x="426.23" y="1594.66" letter-spacing="3.5" stroke="#fe0000" stroke-width="0.5">**</tspan><tspan x="457.3" y="1588.7" font-size="18.5" stroke="#fe0000" stroke-width="0.35">##</tspan></text>
<text font-size="35.4" fill="#fe0000"><tspan x="526.83" y="1609.76" letter-spacing="3.5" stroke="#fe0000" stroke-width="0.5">**</tspan><tspan x="557.5" y="1603.6" font-size="18.5" stroke="#fe0000" stroke-width="0.35">##</tspan></text>
<text font-size="35.4" fill="#fe0000"><tspan x="630.83" y="1609.76" letter-spacing="3.5" stroke="#fe0000" stroke-width="0.5">**</tspan><tspan x="661.6" y="1603.6" font-size="18.5" stroke="#fe0000" stroke-width="0.35">##</tspan></text>
<text x="324.83" y="1652.86" font-size="35.4" fill="#fe0000" text-anchor="start" letter-spacing="3.5" stroke="#fe0000" stroke-width="0.5">**</text>
<text x="426.83" y="1669.36" font-size="35.4" fill="#fe0000" text-anchor="start" letter-spacing="3.5" stroke="#fe0000" stroke-width="0.5">**</text>
<text x="528.13" y="1667.76" font-size="35.4" fill="#fe0000" text-anchor="start" letter-spacing="3.5" stroke="#fe0000" stroke-width="0.5">**</text>
<text x="629.53" y="1675.76" font-size="35.4" fill="#fe0000" text-anchor="start" letter-spacing="3.5" stroke="#fe0000" stroke-width="0.5">**</text>
<text font-size="35.4" fill="#fe0000"><tspan x="1068.13" y="1548.36" letter-spacing="3.5" stroke="#fe0000" stroke-width="0.5">*</tspan><tspan x="1082.9" y="1542.4" font-size="18.5" stroke="#fe0000" stroke-width="0.35">##</tspan></text>
<text font-size="35.4" fill="#fe0000"><tspan x="1161.53" y="1573.06" letter-spacing="3.5" stroke="#fe0000" stroke-width="0.5">**</tspan><tspan x="1192.7" y="1566.4" font-size="18.5" stroke="#fe0000" stroke-width="0.35">#</tspan></text>
<text font-size="35.4" fill="#fe0000"><tspan x="1262.43" y="1574.36" letter-spacing="3.5" stroke="#fe0000" stroke-width="0.5">**</tspan><tspan x="1293.3" y="1568.3" font-size="18.5" stroke="#fe0000" stroke-width="0.35">##</tspan></text>
<text font-size="35.4" fill="#fe0000"><tspan x="1365.53" y="1587.06" letter-spacing="3.5" stroke="#fe0000" stroke-width="0.5">**</tspan><tspan x="1396.7" y="1580.7" font-size="18.5" stroke="#fe0000" stroke-width="0.35">##</tspan></text>
<text x="1057.43" y="1623.06" font-size="35.4" fill="#fe0000" text-anchor="start" letter-spacing="3.5" stroke="#fe0000" stroke-width="0.5">**</text>
<text x="1159.53" y="1629.06" font-size="35.4" fill="#fe0000" text-anchor="start" letter-spacing="3.5" stroke="#fe0000" stroke-width="0.5">**</text>
<text x="1261.83" y="1644.46" font-size="35.4" fill="#fe0000" text-anchor="start" letter-spacing="3.5" stroke="#fe0000" stroke-width="0.5">**</text>
<text x="1363.83" y="1645.06" font-size="35.4" fill="#fe0000" text-anchor="start" letter-spacing="3.5" stroke="#fe0000" stroke-width="0.5">**</text>
</svg>
</body>
</html>
